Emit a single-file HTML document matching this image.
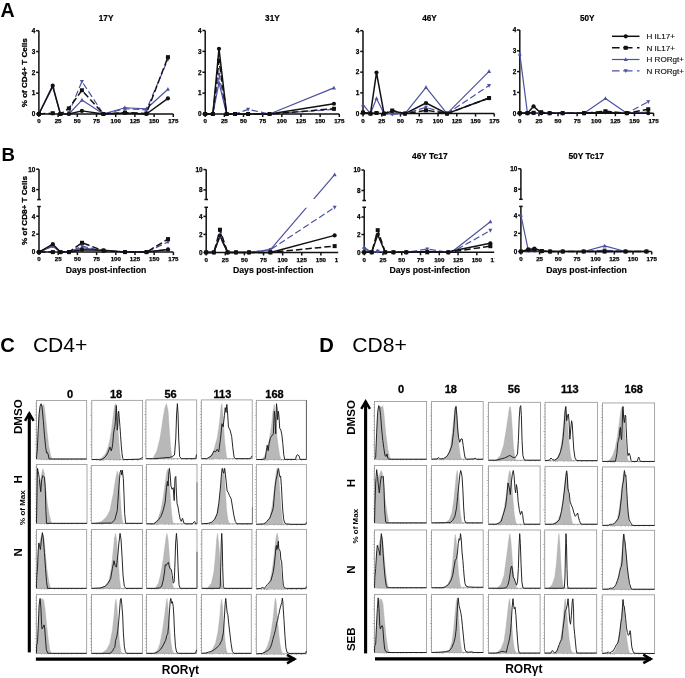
<!DOCTYPE html>
<html><head><meta charset="utf-8"><title>Figure</title>
<style>html,body{margin:0;padding:0;background:#fff;width:685px;height:678px;overflow:hidden}
svg{display:block;font-family:"Liberation Sans", sans-serif;will-change:transform}</style></head>
<body>
<svg width="685" height="678" viewBox="0 0 685 678" font-family='"Liberation Sans", sans-serif'>
<rect width="685" height="678" fill="#fff"/>
<text x="0.5" y="16.8" font-size="19.6" font-weight="bold" text-anchor="start" fill="#000">A</text>
<text x="1.5" y="160.8" font-size="18.6" font-weight="bold" text-anchor="start" fill="#000">B</text>
<text x="106.1" y="20.9" font-size="8.2" font-weight="bold" text-anchor="middle" fill="#000" stroke="#000" stroke-width="0.2">17Y</text>
<text x="272.4" y="20.9" font-size="8.2" font-weight="bold" text-anchor="middle" fill="#000" stroke="#000" stroke-width="0.2">31Y</text>
<text x="429.5" y="20.9" font-size="8.2" font-weight="bold" text-anchor="middle" fill="#000" stroke="#000" stroke-width="0.2">46Y</text>
<text x="587.3" y="20.9" font-size="8.2" font-weight="bold" text-anchor="middle" fill="#000" stroke="#000" stroke-width="0.2">50Y</text>
<text x="429.8" y="158.7" font-size="8.4" font-weight="bold" text-anchor="middle" fill="#000" stroke="#000" stroke-width="0.2">46Y Tc17</text>
<text x="586.2" y="158.7" font-size="8.4" font-weight="bold" text-anchor="middle" fill="#000" stroke="#000" stroke-width="0.2">50Y Tc17</text>
<text x="26.9" y="72.8" font-size="8.1" font-weight="bold" text-anchor="middle" fill="#000" transform="rotate(-90 26.9 72.8)" stroke="#000" stroke-width="0.3">% of CD4+ T Cells</text>
<text x="26.9" y="210.5" font-size="8.1" font-weight="bold" text-anchor="middle" fill="#000" transform="rotate(-90 26.9 210.5)" stroke="#000" stroke-width="0.3">% of CD8+ T Cells</text>
<text x="106" y="272.9" font-size="8.7" font-weight="bold" text-anchor="middle" fill="#000" stroke="#000" stroke-width="0.15">Days post-infection</text>
<text x="273.3" y="272.9" font-size="8.7" font-weight="bold" text-anchor="middle" fill="#000" stroke="#000" stroke-width="0.15">Days post-infection</text>
<text x="429.8" y="272.9" font-size="8.7" font-weight="bold" text-anchor="middle" fill="#000" stroke="#000" stroke-width="0.15">Days post-infection</text>
<text x="586.5" y="272.9" font-size="8.7" font-weight="bold" text-anchor="middle" fill="#000" stroke="#000" stroke-width="0.15">Days post-infection</text>
<g stroke="#111" stroke-width="1.5" fill="none">
<path d="M38.9 30.7V114H173.3"/>
<path d="M36.1 114H38.9"/>
<path d="M36.1 93.17H38.9"/>
<path d="M36.1 72.35H38.9"/>
<path d="M36.1 51.53H38.9"/>
<path d="M36.1 30.7H38.9"/>
<path d="M38.9 114V117"/>
<path d="M58.1 114V117"/>
<path d="M77.3 114V117"/>
<path d="M96.5 114V117"/>
<path d="M115.7 114V117"/>
<path d="M134.9 114V117"/>
<path d="M154.1 114V117"/>
<path d="M173.3 114V117"/>
</g>
<text x="35.3" y="116.3" font-size="6.4" font-weight="bold" text-anchor="end" fill="#000" stroke="#000" stroke-width="0.25">0</text>
<text x="35.3" y="95.47" font-size="6.4" font-weight="bold" text-anchor="end" fill="#000" stroke="#000" stroke-width="0.25">1</text>
<text x="35.3" y="74.65" font-size="6.4" font-weight="bold" text-anchor="end" fill="#000" stroke="#000" stroke-width="0.25">2</text>
<text x="35.3" y="53.83" font-size="6.4" font-weight="bold" text-anchor="end" fill="#000" stroke="#000" stroke-width="0.25">3</text>
<text x="35.3" y="33" font-size="6.4" font-weight="bold" text-anchor="end" fill="#000" stroke="#000" stroke-width="0.25">4</text>
<text x="38.9" y="123.3" font-size="6.2" font-weight="bold" text-anchor="middle" fill="#000" stroke="#000" stroke-width="0.25">0</text>
<text x="58.1" y="123.3" font-size="6.2" font-weight="bold" text-anchor="middle" fill="#000" stroke="#000" stroke-width="0.25">25</text>
<text x="77.3" y="123.3" font-size="6.2" font-weight="bold" text-anchor="middle" fill="#000" stroke="#000" stroke-width="0.25">50</text>
<text x="96.5" y="123.3" font-size="6.2" font-weight="bold" text-anchor="middle" fill="#000" stroke="#000" stroke-width="0.25">75</text>
<text x="115.7" y="123.3" font-size="6.2" font-weight="bold" text-anchor="middle" fill="#000" stroke="#000" stroke-width="0.25">100</text>
<text x="134.9" y="123.3" font-size="6.2" font-weight="bold" text-anchor="middle" fill="#000" stroke="#000" stroke-width="0.25">125</text>
<text x="154.1" y="123.3" font-size="6.2" font-weight="bold" text-anchor="middle" fill="#000" stroke="#000" stroke-width="0.25">150</text>
<text x="173.3" y="123.3" font-size="6.2" font-weight="bold" text-anchor="middle" fill="#000" stroke="#000" stroke-width="0.25">175</text>
<polyline points="38.9,114 52.72,113.58 60.4,114 68.85,112.96 81.91,81.51 103.41,114 124.92,108.79 146.42,109.83 167.92,59.44" fill="none" stroke="#4d52a0" stroke-width="1.2" stroke-dasharray="6.5 3" stroke-linejoin="round"/>
<path d="M38.9 116.2L36.9 112.4L40.9 112.4Z" fill="#4d52a0"/>
<path d="M52.72 115.78L50.72 111.98L54.72 111.98Z" fill="#4d52a0"/>
<path d="M60.4 116.2L58.4 112.4L62.4 112.4Z" fill="#4d52a0"/>
<path d="M68.85 115.16L66.85 111.36L70.85 111.36Z" fill="#4d52a0"/>
<path d="M81.91 83.71L79.91 79.91L83.91 79.91Z" fill="#4d52a0"/>
<path d="M103.41 116.2L101.41 112.4L105.41 112.4Z" fill="#4d52a0"/>
<path d="M124.92 110.99L122.92 107.19L126.92 107.19Z" fill="#4d52a0"/>
<path d="M146.42 112.03L144.42 108.23L148.42 108.23Z" fill="#4d52a0"/>
<path d="M167.92 61.64L165.92 57.84L169.92 57.84Z" fill="#4d52a0"/>
<polyline points="38.9,114 52.72,86.93 60.4,114 68.85,114 81.91,100.05 103.41,114 124.92,107.75 146.42,108.79 167.92,89.22" fill="none" stroke="#4d52a0" stroke-width="1.2" stroke-linejoin="round"/>
<path d="M38.9 111.8L36.9 115.6L40.9 115.6Z" fill="#4d52a0"/>
<path d="M52.72 84.73L50.72 88.53L54.72 88.53Z" fill="#4d52a0"/>
<path d="M60.4 111.8L58.4 115.6L62.4 115.6Z" fill="#4d52a0"/>
<path d="M68.85 111.8L66.85 115.6L70.85 115.6Z" fill="#4d52a0"/>
<path d="M81.91 97.85L79.91 101.65L83.91 101.65Z" fill="#4d52a0"/>
<path d="M103.41 111.8L101.41 115.6L105.41 115.6Z" fill="#4d52a0"/>
<path d="M124.92 105.55L122.92 109.35L126.92 109.35Z" fill="#4d52a0"/>
<path d="M146.42 106.59L144.42 110.39L148.42 110.39Z" fill="#4d52a0"/>
<path d="M167.92 87.02L165.92 90.82L169.92 90.82Z" fill="#4d52a0"/>
<polyline points="38.9,114 52.72,113.17 60.4,114 68.85,108.38 81.91,90.26 103.41,114 124.92,112.54 146.42,113.38 167.92,57.15" fill="none" stroke="#111" stroke-width="1.5" stroke-dasharray="6.5 3" stroke-linejoin="round"/>
<rect x="36.9" y="112" width="4" height="4" fill="#111"/>
<rect x="50.72" y="111.17" width="4" height="4" fill="#111"/>
<rect x="58.4" y="112" width="4" height="4" fill="#111"/>
<rect x="66.85" y="106.38" width="4" height="4" fill="#111"/>
<rect x="79.91" y="88.26" width="4" height="4" fill="#111"/>
<rect x="101.41" y="112" width="4" height="4" fill="#111"/>
<rect x="122.92" y="110.54" width="4" height="4" fill="#111"/>
<rect x="144.42" y="111.38" width="4" height="4" fill="#111"/>
<rect x="165.92" y="55.15" width="4" height="4" fill="#111"/>
<polyline points="38.9,114 52.72,85.68 60.4,114 68.85,114 81.91,110.88 103.41,114 124.92,112.96 146.42,114 167.92,98.38" fill="none" stroke="#111" stroke-width="1.5" stroke-linejoin="round"/>
<circle cx="38.9" cy="114" r="2.1" fill="#111"/>
<circle cx="52.72" cy="85.68" r="2.1" fill="#111"/>
<circle cx="60.4" cy="114" r="2.1" fill="#111"/>
<circle cx="68.85" cy="114" r="2.1" fill="#111"/>
<circle cx="81.91" cy="110.88" r="2.1" fill="#111"/>
<circle cx="103.41" cy="114" r="2.1" fill="#111"/>
<circle cx="124.92" cy="112.96" r="2.1" fill="#111"/>
<circle cx="146.42" cy="114" r="2.1" fill="#111"/>
<circle cx="167.92" cy="98.38" r="2.1" fill="#111"/>
<g stroke="#111" stroke-width="1.5" fill="none">
<path d="M205.2 30.5V114H339.3"/>
<path d="M202.4 114H205.2"/>
<path d="M202.4 93.12H205.2"/>
<path d="M202.4 72.25H205.2"/>
<path d="M202.4 51.38H205.2"/>
<path d="M202.4 30.5H205.2"/>
<path d="M205.2 114V117"/>
<path d="M224.36 114V117"/>
<path d="M243.51 114V117"/>
<path d="M262.67 114V117"/>
<path d="M281.83 114V117"/>
<path d="M300.99 114V117"/>
<path d="M320.14 114V117"/>
<path d="M339.3 114V117"/>
</g>
<text x="201.6" y="116.3" font-size="6.4" font-weight="bold" text-anchor="end" fill="#000" stroke="#000" stroke-width="0.25">0</text>
<text x="201.6" y="95.42" font-size="6.4" font-weight="bold" text-anchor="end" fill="#000" stroke="#000" stroke-width="0.25">1</text>
<text x="201.6" y="74.55" font-size="6.4" font-weight="bold" text-anchor="end" fill="#000" stroke="#000" stroke-width="0.25">2</text>
<text x="201.6" y="53.67" font-size="6.4" font-weight="bold" text-anchor="end" fill="#000" stroke="#000" stroke-width="0.25">3</text>
<text x="201.6" y="32.8" font-size="6.4" font-weight="bold" text-anchor="end" fill="#000" stroke="#000" stroke-width="0.25">4</text>
<text x="205.2" y="123.3" font-size="6.2" font-weight="bold" text-anchor="middle" fill="#000" stroke="#000" stroke-width="0.25">0</text>
<text x="224.36" y="123.3" font-size="6.2" font-weight="bold" text-anchor="middle" fill="#000" stroke="#000" stroke-width="0.25">25</text>
<text x="243.51" y="123.3" font-size="6.2" font-weight="bold" text-anchor="middle" fill="#000" stroke="#000" stroke-width="0.25">50</text>
<text x="262.67" y="123.3" font-size="6.2" font-weight="bold" text-anchor="middle" fill="#000" stroke="#000" stroke-width="0.25">75</text>
<text x="281.83" y="123.3" font-size="6.2" font-weight="bold" text-anchor="middle" fill="#000" stroke="#000" stroke-width="0.25">100</text>
<text x="300.99" y="123.3" font-size="6.2" font-weight="bold" text-anchor="middle" fill="#000" stroke="#000" stroke-width="0.25">125</text>
<text x="320.14" y="123.3" font-size="6.2" font-weight="bold" text-anchor="middle" fill="#000" stroke="#000" stroke-width="0.25">150</text>
<text x="339.3" y="123.3" font-size="6.2" font-weight="bold" text-anchor="middle" fill="#000" stroke="#000" stroke-width="0.25">175</text>
<polyline points="205.2,114 212.86,114 218.99,74.34 226.66,114 235.09,114 248.11,109.41 269.57,114 333.94,109.41" fill="none" stroke="#4d52a0" stroke-width="1.2" stroke-dasharray="6.5 3" stroke-linejoin="round"/>
<path d="M205.2 116.2L203.2 112.4L207.2 112.4Z" fill="#4d52a0"/>
<path d="M212.86 116.2L210.86 112.4L214.86 112.4Z" fill="#4d52a0"/>
<path d="M218.99 76.54L216.99 72.74L220.99 72.74Z" fill="#4d52a0"/>
<path d="M226.66 116.2L224.66 112.4L228.66 112.4Z" fill="#4d52a0"/>
<path d="M235.09 116.2L233.09 112.4L237.09 112.4Z" fill="#4d52a0"/>
<path d="M248.11 111.61L246.11 107.81L250.11 107.81Z" fill="#4d52a0"/>
<path d="M269.57 116.2L267.57 112.4L271.57 112.4Z" fill="#4d52a0"/>
<path d="M333.94 111.61L331.94 107.81L335.94 107.81Z" fill="#4d52a0"/>
<polyline points="205.2,114 212.86,114 218.99,82.69 226.66,114 235.09,114 248.11,114 269.57,114 333.94,87.91" fill="none" stroke="#4d52a0" stroke-width="1.2" stroke-linejoin="round"/>
<path d="M205.2 111.8L203.2 115.6L207.2 115.6Z" fill="#4d52a0"/>
<path d="M212.86 111.8L210.86 115.6L214.86 115.6Z" fill="#4d52a0"/>
<path d="M218.99 80.49L216.99 84.29L220.99 84.29Z" fill="#4d52a0"/>
<path d="M226.66 111.8L224.66 115.6L228.66 115.6Z" fill="#4d52a0"/>
<path d="M235.09 111.8L233.09 115.6L237.09 115.6Z" fill="#4d52a0"/>
<path d="M248.11 111.8L246.11 115.6L250.11 115.6Z" fill="#4d52a0"/>
<path d="M269.57 111.8L267.57 115.6L271.57 115.6Z" fill="#4d52a0"/>
<path d="M333.94 85.71L331.94 89.51L335.94 89.51Z" fill="#4d52a0"/>
<polyline points="205.2,114 212.86,114 218.99,60.77 226.66,114 235.09,114 248.11,114 269.57,114 333.94,108.78" fill="none" stroke="#111" stroke-width="1.5" stroke-dasharray="6.5 3" stroke-linejoin="round"/>
<rect x="203.2" y="112" width="4" height="4" fill="#111"/>
<rect x="210.86" y="112" width="4" height="4" fill="#111"/>
<rect x="216.99" y="58.77" width="4" height="4" fill="#111"/>
<rect x="224.66" y="112" width="4" height="4" fill="#111"/>
<rect x="233.09" y="112" width="4" height="4" fill="#111"/>
<rect x="246.11" y="112" width="4" height="4" fill="#111"/>
<rect x="267.57" y="112" width="4" height="4" fill="#111"/>
<rect x="331.94" y="106.78" width="4" height="4" fill="#111"/>
<polyline points="205.2,114 212.86,114 218.99,48.87 226.66,114 235.09,114 248.11,114 269.57,114 333.94,103.77" fill="none" stroke="#111" stroke-width="1.5" stroke-linejoin="round"/>
<circle cx="205.2" cy="114" r="2.1" fill="#111"/>
<circle cx="212.86" cy="114" r="2.1" fill="#111"/>
<circle cx="218.99" cy="48.87" r="2.1" fill="#111"/>
<circle cx="226.66" cy="114" r="2.1" fill="#111"/>
<circle cx="235.09" cy="114" r="2.1" fill="#111"/>
<circle cx="248.11" cy="114" r="2.1" fill="#111"/>
<circle cx="269.57" cy="114" r="2.1" fill="#111"/>
<circle cx="333.94" cy="103.77" r="2.1" fill="#111"/>
<g stroke="#111" stroke-width="1.5" fill="none">
<path d="M363 30.7V113.6H494.3"/>
<path d="M360.2 113.6H363"/>
<path d="M360.2 92.88H363"/>
<path d="M360.2 72.15H363"/>
<path d="M360.2 51.42H363"/>
<path d="M360.2 30.7H363"/>
<path d="M363 113.6V116.6"/>
<path d="M381.76 113.6V116.6"/>
<path d="M400.51 113.6V116.6"/>
<path d="M419.27 113.6V116.6"/>
<path d="M438.03 113.6V116.6"/>
<path d="M456.79 113.6V116.6"/>
<path d="M475.54 113.6V116.6"/>
<path d="M494.3 113.6V116.6"/>
</g>
<text x="359.4" y="115.9" font-size="6.4" font-weight="bold" text-anchor="end" fill="#000" stroke="#000" stroke-width="0.25">0</text>
<text x="359.4" y="95.17" font-size="6.4" font-weight="bold" text-anchor="end" fill="#000" stroke="#000" stroke-width="0.25">1</text>
<text x="359.4" y="74.45" font-size="6.4" font-weight="bold" text-anchor="end" fill="#000" stroke="#000" stroke-width="0.25">2</text>
<text x="359.4" y="53.72" font-size="6.4" font-weight="bold" text-anchor="end" fill="#000" stroke="#000" stroke-width="0.25">3</text>
<text x="359.4" y="33" font-size="6.4" font-weight="bold" text-anchor="end" fill="#000" stroke="#000" stroke-width="0.25">4</text>
<text x="363" y="122.9" font-size="6.2" font-weight="bold" text-anchor="middle" fill="#000" stroke="#000" stroke-width="0.25">0</text>
<text x="381.76" y="122.9" font-size="6.2" font-weight="bold" text-anchor="middle" fill="#000" stroke="#000" stroke-width="0.25">25</text>
<text x="400.51" y="122.9" font-size="6.2" font-weight="bold" text-anchor="middle" fill="#000" stroke="#000" stroke-width="0.25">50</text>
<text x="419.27" y="122.9" font-size="6.2" font-weight="bold" text-anchor="middle" fill="#000" stroke="#000" stroke-width="0.25">75</text>
<text x="438.03" y="122.9" font-size="6.2" font-weight="bold" text-anchor="middle" fill="#000" stroke="#000" stroke-width="0.25">100</text>
<text x="456.79" y="122.9" font-size="6.2" font-weight="bold" text-anchor="middle" fill="#000" stroke="#000" stroke-width="0.25">125</text>
<text x="475.54" y="122.9" font-size="6.2" font-weight="bold" text-anchor="middle" fill="#000" stroke="#000" stroke-width="0.25">150</text>
<text x="494.3" y="122.9" font-size="6.2" font-weight="bold" text-anchor="middle" fill="#000" stroke="#000" stroke-width="0.25">175</text>
<polyline points="363,112.56 370.5,113.6 376.51,112.56 384.01,113.6 392.26,114.22 405.02,113.6 426.02,107.38 447.03,113.6 489.05,85.62" fill="none" stroke="#4d52a0" stroke-width="1.2" stroke-dasharray="6.5 3" stroke-linejoin="round"/>
<path d="M363 114.76L361 110.96L365 110.96Z" fill="#4d52a0"/>
<path d="M370.5 115.8L368.5 112L372.5 112Z" fill="#4d52a0"/>
<path d="M376.51 114.76L374.51 110.96L378.51 110.96Z" fill="#4d52a0"/>
<path d="M384.01 115.8L382.01 112L386.01 112Z" fill="#4d52a0"/>
<path d="M392.26 116.42L390.26 112.62L394.26 112.62Z" fill="#4d52a0"/>
<path d="M405.02 115.8L403.02 112L407.02 112Z" fill="#4d52a0"/>
<path d="M426.02 109.58L424.02 105.78L428.02 105.78Z" fill="#4d52a0"/>
<path d="M447.03 115.8L445.03 112L449.03 112Z" fill="#4d52a0"/>
<path d="M489.05 87.82L487.05 84.02L491.05 84.02Z" fill="#4d52a0"/>
<polyline points="363,104.69 370.5,113.6 376.51,98.47 384.01,113.6 392.26,113.6 405.02,113.6 426.02,87.28 447.03,113.6 489.05,71.32" fill="none" stroke="#4d52a0" stroke-width="1.2" stroke-linejoin="round"/>
<path d="M363 102.49L361 106.29L365 106.29Z" fill="#4d52a0"/>
<path d="M370.5 111.4L368.5 115.2L372.5 115.2Z" fill="#4d52a0"/>
<path d="M376.51 96.27L374.51 100.07L378.51 100.07Z" fill="#4d52a0"/>
<path d="M384.01 111.4L382.01 115.2L386.01 115.2Z" fill="#4d52a0"/>
<path d="M392.26 111.4L390.26 115.2L394.26 115.2Z" fill="#4d52a0"/>
<path d="M405.02 111.4L403.02 115.2L407.02 115.2Z" fill="#4d52a0"/>
<path d="M426.02 85.08L424.02 88.88L428.02 88.88Z" fill="#4d52a0"/>
<path d="M447.03 111.4L445.03 115.2L449.03 115.2Z" fill="#4d52a0"/>
<path d="M489.05 69.12L487.05 72.92L491.05 72.92Z" fill="#4d52a0"/>
<polyline points="363,112.56 370.5,113.6 376.51,112.98 384.01,113.6 392.26,110.49 405.02,113.6 426.02,110.28 447.03,113.6 489.05,98.06" fill="none" stroke="#111" stroke-width="1.5" stroke-dasharray="6.5 3" stroke-linejoin="round"/>
<rect x="361" y="110.56" width="4" height="4" fill="#111"/>
<rect x="368.5" y="111.6" width="4" height="4" fill="#111"/>
<rect x="374.51" y="110.98" width="4" height="4" fill="#111"/>
<rect x="382.01" y="111.6" width="4" height="4" fill="#111"/>
<rect x="390.26" y="108.49" width="4" height="4" fill="#111"/>
<rect x="403.02" y="111.6" width="4" height="4" fill="#111"/>
<rect x="424.02" y="108.28" width="4" height="4" fill="#111"/>
<rect x="445.03" y="111.6" width="4" height="4" fill="#111"/>
<rect x="487.05" y="96.06" width="4" height="4" fill="#111"/>
<polyline points="363,112.56 370.5,113.6 376.51,72.56 384.01,113.6 392.26,111.11 405.02,113.6 426.02,103.03 447.03,113.6 489.05,98.06" fill="none" stroke="#111" stroke-width="1.5" stroke-linejoin="round"/>
<circle cx="363" cy="112.56" r="2.1" fill="#111"/>
<circle cx="370.5" cy="113.6" r="2.1" fill="#111"/>
<circle cx="376.51" cy="72.56" r="2.1" fill="#111"/>
<circle cx="384.01" cy="113.6" r="2.1" fill="#111"/>
<circle cx="392.26" cy="111.11" r="2.1" fill="#111"/>
<circle cx="405.02" cy="113.6" r="2.1" fill="#111"/>
<circle cx="426.02" cy="103.03" r="2.1" fill="#111"/>
<circle cx="447.03" cy="113.6" r="2.1" fill="#111"/>
<circle cx="489.05" cy="98.06" r="2.1" fill="#111"/>
<g stroke="#111" stroke-width="1.5" fill="none">
<path d="M519.8 30V113.2H653.6"/>
<path d="M517 113.2H519.8"/>
<path d="M517 92.4H519.8"/>
<path d="M517 71.6H519.8"/>
<path d="M517 50.8H519.8"/>
<path d="M517 30H519.8"/>
<path d="M519.8 113.2V116.2"/>
<path d="M538.91 113.2V116.2"/>
<path d="M558.03 113.2V116.2"/>
<path d="M577.14 113.2V116.2"/>
<path d="M596.26 113.2V116.2"/>
<path d="M615.37 113.2V116.2"/>
<path d="M634.49 113.2V116.2"/>
<path d="M653.6 113.2V116.2"/>
</g>
<text x="516.2" y="115.5" font-size="6.4" font-weight="bold" text-anchor="end" fill="#000" stroke="#000" stroke-width="0.25">0</text>
<text x="516.2" y="94.7" font-size="6.4" font-weight="bold" text-anchor="end" fill="#000" stroke="#000" stroke-width="0.25">1</text>
<text x="516.2" y="73.9" font-size="6.4" font-weight="bold" text-anchor="end" fill="#000" stroke="#000" stroke-width="0.25">2</text>
<text x="516.2" y="53.1" font-size="6.4" font-weight="bold" text-anchor="end" fill="#000" stroke="#000" stroke-width="0.25">3</text>
<text x="516.2" y="32.3" font-size="6.4" font-weight="bold" text-anchor="end" fill="#000" stroke="#000" stroke-width="0.25">4</text>
<text x="519.8" y="122.5" font-size="6.2" font-weight="bold" text-anchor="middle" fill="#000" stroke="#000" stroke-width="0.25">0</text>
<text x="538.91" y="122.5" font-size="6.2" font-weight="bold" text-anchor="middle" fill="#000" stroke="#000" stroke-width="0.25">25</text>
<text x="558.03" y="122.5" font-size="6.2" font-weight="bold" text-anchor="middle" fill="#000" stroke="#000" stroke-width="0.25">50</text>
<text x="577.14" y="122.5" font-size="6.2" font-weight="bold" text-anchor="middle" fill="#000" stroke="#000" stroke-width="0.25">75</text>
<text x="596.26" y="122.5" font-size="6.2" font-weight="bold" text-anchor="middle" fill="#000" stroke="#000" stroke-width="0.25">100</text>
<text x="615.37" y="122.5" font-size="6.2" font-weight="bold" text-anchor="middle" fill="#000" stroke="#000" stroke-width="0.25">125</text>
<text x="634.49" y="122.5" font-size="6.2" font-weight="bold" text-anchor="middle" fill="#000" stroke="#000" stroke-width="0.25">150</text>
<text x="653.6" y="122.5" font-size="6.2" font-weight="bold" text-anchor="middle" fill="#000" stroke="#000" stroke-width="0.25">175</text>
<polyline points="519.8,113.2 527.45,113.2 533.56,113.2 541.21,113.2 549.62,113.2 562.62,113.2 584.02,113.2 605.43,111.12 626.84,113.2 648.25,101.76" fill="none" stroke="#4d52a0" stroke-width="1.2" stroke-dasharray="6.5 3" stroke-linejoin="round"/>
<path d="M519.8 115.4L517.8 111.6L521.8 111.6Z" fill="#4d52a0"/>
<path d="M527.45 115.4L525.45 111.6L529.45 111.6Z" fill="#4d52a0"/>
<path d="M533.56 115.4L531.56 111.6L535.56 111.6Z" fill="#4d52a0"/>
<path d="M541.21 115.4L539.21 111.6L543.21 111.6Z" fill="#4d52a0"/>
<path d="M549.62 115.4L547.62 111.6L551.62 111.6Z" fill="#4d52a0"/>
<path d="M562.62 115.4L560.62 111.6L564.62 111.6Z" fill="#4d52a0"/>
<path d="M584.02 115.4L582.02 111.6L586.02 111.6Z" fill="#4d52a0"/>
<path d="M605.43 113.32L603.43 109.52L607.43 109.52Z" fill="#4d52a0"/>
<path d="M626.84 115.4L624.84 111.6L628.84 111.6Z" fill="#4d52a0"/>
<path d="M648.25 103.96L646.25 100.16L650.25 100.16Z" fill="#4d52a0"/>
<polyline points="519.8,53.92 527.45,113.2 533.56,113.2 541.21,113.2 549.62,113.2 562.62,113.2 584.02,113.2 605.43,98.43 626.84,113.2 648.25,112.16" fill="none" stroke="#4d52a0" stroke-width="1.2" stroke-linejoin="round"/>
<path d="M519.8 51.72L517.8 55.52L521.8 55.52Z" fill="#4d52a0"/>
<path d="M527.45 111L525.45 114.8L529.45 114.8Z" fill="#4d52a0"/>
<path d="M533.56 111L531.56 114.8L535.56 114.8Z" fill="#4d52a0"/>
<path d="M541.21 111L539.21 114.8L543.21 114.8Z" fill="#4d52a0"/>
<path d="M549.62 111L547.62 114.8L551.62 114.8Z" fill="#4d52a0"/>
<path d="M562.62 111L560.62 114.8L564.62 114.8Z" fill="#4d52a0"/>
<path d="M584.02 111L582.02 114.8L586.02 114.8Z" fill="#4d52a0"/>
<path d="M605.43 96.23L603.43 100.03L607.43 100.03Z" fill="#4d52a0"/>
<path d="M626.84 111L624.84 114.8L628.84 114.8Z" fill="#4d52a0"/>
<path d="M648.25 109.96L646.25 113.76L650.25 113.76Z" fill="#4d52a0"/>
<polyline points="519.8,113.2 527.45,113.2 533.56,112.78 541.21,112.16 549.62,113.2 562.62,113.2 584.02,113.2 605.43,111.33 626.84,113.2 648.25,109.25" fill="none" stroke="#111" stroke-width="1.5" stroke-dasharray="6.5 3" stroke-linejoin="round"/>
<rect x="517.8" y="111.2" width="4" height="4" fill="#111"/>
<rect x="525.45" y="111.2" width="4" height="4" fill="#111"/>
<rect x="531.56" y="110.78" width="4" height="4" fill="#111"/>
<rect x="539.21" y="110.16" width="4" height="4" fill="#111"/>
<rect x="547.62" y="111.2" width="4" height="4" fill="#111"/>
<rect x="560.62" y="111.2" width="4" height="4" fill="#111"/>
<rect x="582.02" y="111.2" width="4" height="4" fill="#111"/>
<rect x="603.43" y="109.33" width="4" height="4" fill="#111"/>
<rect x="624.84" y="111.2" width="4" height="4" fill="#111"/>
<rect x="646.25" y="107.25" width="4" height="4" fill="#111"/>
<polyline points="519.8,113.2 527.45,113.2 533.56,106.34 541.21,113.2 549.62,113.2 562.62,113.2 584.02,113.2 605.43,112.16 626.84,113.2 648.25,113.2" fill="none" stroke="#111" stroke-width="1.5" stroke-linejoin="round"/>
<circle cx="519.8" cy="113.2" r="2.1" fill="#111"/>
<circle cx="527.45" cy="113.2" r="2.1" fill="#111"/>
<circle cx="533.56" cy="106.34" r="2.1" fill="#111"/>
<circle cx="541.21" cy="113.2" r="2.1" fill="#111"/>
<circle cx="549.62" cy="113.2" r="2.1" fill="#111"/>
<circle cx="562.62" cy="113.2" r="2.1" fill="#111"/>
<circle cx="584.02" cy="113.2" r="2.1" fill="#111"/>
<circle cx="605.43" cy="112.16" r="2.1" fill="#111"/>
<circle cx="626.84" cy="113.2" r="2.1" fill="#111"/>
<circle cx="648.25" cy="113.2" r="2.1" fill="#111"/>
<clipPath id="cb0"><rect x="0" y="0" width="700" height="678"/></clipPath>
<clipPath id="cbl0"><rect x="0" y="207" width="700" height="93.5"/><rect x="0" y="0" width="700" height="199.1"/></clipPath>
<g clip-path="url(#cb0)">
<g stroke="#111" stroke-width="1.5" fill="none">
<path d="M39 169.2V199.6"/>
<path d="M37.2 199.6H40.8"/>
<path d="M37.2 206.5H40.8"/>
<path d="M39 206.5V252.1H173.4"/>
<path d="M36.2 169.2H39"/>
<path d="M36.2 189.6H39"/>
<path d="M36.2 216.2H39"/>
<path d="M36.2 234.15H39"/>
<path d="M36.2 252.1H39"/>
<path d="M39 252.1V255.1"/>
<path d="M58.2 252.1V255.1"/>
<path d="M77.4 252.1V255.1"/>
<path d="M96.6 252.1V255.1"/>
<path d="M115.8 252.1V255.1"/>
<path d="M135 252.1V255.1"/>
<path d="M154.2 252.1V255.1"/>
<path d="M173.4 252.1V255.1"/>
</g>
<text x="35.4" y="171.5" font-size="6.4" font-weight="bold" text-anchor="end" fill="#000" stroke="#000" stroke-width="0.25">10</text>
<text x="35.4" y="191.9" font-size="6.4" font-weight="bold" text-anchor="end" fill="#000" stroke="#000" stroke-width="0.25">8</text>
<text x="35.4" y="218.5" font-size="6.4" font-weight="bold" text-anchor="end" fill="#000" stroke="#000" stroke-width="0.25">4</text>
<text x="35.4" y="236.45" font-size="6.4" font-weight="bold" text-anchor="end" fill="#000" stroke="#000" stroke-width="0.25">2</text>
<text x="35.4" y="254.4" font-size="6.4" font-weight="bold" text-anchor="end" fill="#000" stroke="#000" stroke-width="0.25">0</text>
<text x="39" y="261.4" font-size="6.2" font-weight="bold" text-anchor="middle" fill="#000" stroke="#000" stroke-width="0.25">0</text>
<text x="58.2" y="261.4" font-size="6.2" font-weight="bold" text-anchor="middle" fill="#000" stroke="#000" stroke-width="0.25">25</text>
<text x="77.4" y="261.4" font-size="6.2" font-weight="bold" text-anchor="middle" fill="#000" stroke="#000" stroke-width="0.25">50</text>
<text x="96.6" y="261.4" font-size="6.2" font-weight="bold" text-anchor="middle" fill="#000" stroke="#000" stroke-width="0.25">75</text>
<text x="115.8" y="261.4" font-size="6.2" font-weight="bold" text-anchor="middle" fill="#000" stroke="#000" stroke-width="0.25">100</text>
<text x="135" y="261.4" font-size="6.2" font-weight="bold" text-anchor="middle" fill="#000" stroke="#000" stroke-width="0.25">125</text>
<text x="154.2" y="261.4" font-size="6.2" font-weight="bold" text-anchor="middle" fill="#000" stroke="#000" stroke-width="0.25">150</text>
<text x="173.4" y="261.4" font-size="6.2" font-weight="bold" text-anchor="middle" fill="#000" stroke="#000" stroke-width="0.25">175</text>
<g clip-path="url(#cbl0)">
<polyline points="39,252.1 52.82,245.82 60.5,252.1 68.95,252.1 82.01,246.09 103.51,251.2 125.02,252.1 146.52,252.1 168.02,241.96" fill="none" stroke="#4d52a0" stroke-width="1.2" stroke-dasharray="6.5 3" stroke-linejoin="round"/>
<polyline points="39,252.1 52.82,246.27 60.5,252.1 68.95,252.1 82.01,247.61 103.51,251.2 125.02,252.1 146.52,252.1 168.02,249.41" fill="none" stroke="#4d52a0" stroke-width="1.2" stroke-linejoin="round"/>
<polyline points="39,252.1 52.82,252.1 60.5,252.1 68.95,252.1 82.01,242.77 103.51,250.75 125.02,252.1 146.52,252.1 168.02,239.09" fill="none" stroke="#111" stroke-width="1.5" stroke-dasharray="6.5 3" stroke-linejoin="round"/>
<polyline points="39,252.1 52.82,244.2 60.5,252.1 68.95,252.1 82.01,249.68 103.51,250.31 125.02,252.1 146.52,252.1 168.02,249.41" fill="none" stroke="#111" stroke-width="1.5" stroke-linejoin="round"/>
</g>
<path d="M39 254.3L37 250.5L41 250.5Z" fill="#4d52a0"/>
<path d="M52.82 248.02L50.82 244.22L54.82 244.22Z" fill="#4d52a0"/>
<path d="M60.5 254.3L58.5 250.5L62.5 250.5Z" fill="#4d52a0"/>
<path d="M68.95 254.3L66.95 250.5L70.95 250.5Z" fill="#4d52a0"/>
<path d="M82.01 248.29L80.01 244.49L84.01 244.49Z" fill="#4d52a0"/>
<path d="M103.51 253.4L101.51 249.6L105.51 249.6Z" fill="#4d52a0"/>
<path d="M125.02 254.3L123.02 250.5L127.02 250.5Z" fill="#4d52a0"/>
<path d="M146.52 254.3L144.52 250.5L148.52 250.5Z" fill="#4d52a0"/>
<path d="M168.02 244.16L166.02 240.36L170.02 240.36Z" fill="#4d52a0"/>
<path d="M39 249.9L37 253.7L41 253.7Z" fill="#4d52a0"/>
<path d="M52.82 244.07L50.82 247.87L54.82 247.87Z" fill="#4d52a0"/>
<path d="M60.5 249.9L58.5 253.7L62.5 253.7Z" fill="#4d52a0"/>
<path d="M68.95 249.9L66.95 253.7L70.95 253.7Z" fill="#4d52a0"/>
<path d="M82.01 245.41L80.01 249.21L84.01 249.21Z" fill="#4d52a0"/>
<path d="M103.51 249L101.51 252.8L105.51 252.8Z" fill="#4d52a0"/>
<path d="M125.02 249.9L123.02 253.7L127.02 253.7Z" fill="#4d52a0"/>
<path d="M146.52 249.9L144.52 253.7L148.52 253.7Z" fill="#4d52a0"/>
<path d="M168.02 247.21L166.02 251.01L170.02 251.01Z" fill="#4d52a0"/>
<rect x="37" y="250.1" width="4" height="4" fill="#111"/>
<rect x="50.82" y="250.1" width="4" height="4" fill="#111"/>
<rect x="58.5" y="250.1" width="4" height="4" fill="#111"/>
<rect x="66.95" y="250.1" width="4" height="4" fill="#111"/>
<rect x="80.01" y="240.77" width="4" height="4" fill="#111"/>
<rect x="101.51" y="248.75" width="4" height="4" fill="#111"/>
<rect x="123.02" y="250.1" width="4" height="4" fill="#111"/>
<rect x="144.52" y="250.1" width="4" height="4" fill="#111"/>
<rect x="166.02" y="237.09" width="4" height="4" fill="#111"/>
<circle cx="39" cy="252.1" r="2.1" fill="#111"/>
<circle cx="52.82" cy="244.2" r="2.1" fill="#111"/>
<circle cx="60.5" cy="252.1" r="2.1" fill="#111"/>
<circle cx="68.95" cy="252.1" r="2.1" fill="#111"/>
<circle cx="82.01" cy="249.68" r="2.1" fill="#111"/>
<circle cx="103.51" cy="250.31" r="2.1" fill="#111"/>
<circle cx="125.02" cy="252.1" r="2.1" fill="#111"/>
<circle cx="146.52" cy="252.1" r="2.1" fill="#111"/>
<circle cx="168.02" cy="249.41" r="2.1" fill="#111"/>
</g>
<clipPath id="cb1"><rect x="0" y="0" width="338.2" height="678"/></clipPath>
<clipPath id="cbl1"><rect x="0" y="207.8" width="338.2" height="92.7"/><rect x="0" y="0" width="338.2" height="199"/></clipPath>
<g clip-path="url(#cb1)">
<g stroke="#111" stroke-width="1.5" fill="none">
<path d="M206.2 169.6V199.5"/>
<path d="M204.4 199.5H208"/>
<path d="M204.4 207.3H208"/>
<path d="M206.2 207.3V252.4H340"/>
<path d="M203.4 169.6H206.2"/>
<path d="M203.4 189.9H206.2"/>
<path d="M203.4 216.4H206.2"/>
<path d="M203.4 234.4H206.2"/>
<path d="M203.4 252.4H206.2"/>
<path d="M206.2 252.4V255.4"/>
<path d="M225.31 252.4V255.4"/>
<path d="M244.43 252.4V255.4"/>
<path d="M263.54 252.4V255.4"/>
<path d="M282.66 252.4V255.4"/>
<path d="M301.77 252.4V255.4"/>
<path d="M320.89 252.4V255.4"/>
<path d="M340 252.4V255.4"/>
</g>
<text x="202.6" y="171.9" font-size="6.4" font-weight="bold" text-anchor="end" fill="#000" stroke="#000" stroke-width="0.25">10</text>
<text x="202.6" y="192.2" font-size="6.4" font-weight="bold" text-anchor="end" fill="#000" stroke="#000" stroke-width="0.25">8</text>
<text x="202.6" y="218.7" font-size="6.4" font-weight="bold" text-anchor="end" fill="#000" stroke="#000" stroke-width="0.25">4</text>
<text x="202.6" y="236.7" font-size="6.4" font-weight="bold" text-anchor="end" fill="#000" stroke="#000" stroke-width="0.25">2</text>
<text x="202.6" y="254.7" font-size="6.4" font-weight="bold" text-anchor="end" fill="#000" stroke="#000" stroke-width="0.25">0</text>
<text x="206.2" y="261.7" font-size="6.2" font-weight="bold" text-anchor="middle" fill="#000" stroke="#000" stroke-width="0.25">0</text>
<text x="225.31" y="261.7" font-size="6.2" font-weight="bold" text-anchor="middle" fill="#000" stroke="#000" stroke-width="0.25">25</text>
<text x="244.43" y="261.7" font-size="6.2" font-weight="bold" text-anchor="middle" fill="#000" stroke="#000" stroke-width="0.25">50</text>
<text x="263.54" y="261.7" font-size="6.2" font-weight="bold" text-anchor="middle" fill="#000" stroke="#000" stroke-width="0.25">75</text>
<text x="282.66" y="261.7" font-size="6.2" font-weight="bold" text-anchor="middle" fill="#000" stroke="#000" stroke-width="0.25">100</text>
<text x="301.77" y="261.7" font-size="6.2" font-weight="bold" text-anchor="middle" fill="#000" stroke="#000" stroke-width="0.25">125</text>
<text x="320.89" y="261.7" font-size="6.2" font-weight="bold" text-anchor="middle" fill="#000" stroke="#000" stroke-width="0.25">150</text>
<text x="340" y="261.7" font-size="6.2" font-weight="bold" text-anchor="middle" fill="#000" stroke="#000" stroke-width="0.25">175</text>
<g clip-path="url(#cbl1)">
<polyline points="206.2,252.4 213.85,252.4 219.96,237.1 227.61,252.4 236.02,252.4 249.02,252.4 270.42,249.7 334.65,207.4" fill="none" stroke="#4d52a0" stroke-width="1.2" stroke-dasharray="6.5 3" stroke-linejoin="round"/>
<polyline points="206.2,252.4 213.85,252.4 219.96,236.2 227.61,252.4 236.02,252.4 249.02,252.4 270.42,249.7 334.65,174.68" fill="none" stroke="#4d52a0" stroke-width="1.2" stroke-linejoin="round"/>
<polyline points="206.2,252.4 213.85,252.4 219.96,229.72 227.61,252.4 236.02,252.4 249.02,252.4 270.42,252.4 334.65,246.1" fill="none" stroke="#111" stroke-width="1.5" stroke-dasharray="6.5 3" stroke-linejoin="round"/>
<polyline points="206.2,252.4 213.85,252.4 219.96,235.3 227.61,252.4 236.02,252.4 249.02,252.4 270.42,252.4 334.65,235.39" fill="none" stroke="#111" stroke-width="1.5" stroke-linejoin="round"/>
</g>
<path d="M206.2 254.6L204.2 250.8L208.2 250.8Z" fill="#4d52a0"/>
<path d="M213.85 254.6L211.85 250.8L215.85 250.8Z" fill="#4d52a0"/>
<path d="M219.96 239.3L217.96 235.5L221.96 235.5Z" fill="#4d52a0"/>
<path d="M227.61 254.6L225.61 250.8L229.61 250.8Z" fill="#4d52a0"/>
<path d="M236.02 254.6L234.02 250.8L238.02 250.8Z" fill="#4d52a0"/>
<path d="M249.02 254.6L247.02 250.8L251.02 250.8Z" fill="#4d52a0"/>
<path d="M270.42 251.9L268.42 248.1L272.42 248.1Z" fill="#4d52a0"/>
<path d="M334.65 209.6L332.65 205.8L336.65 205.8Z" fill="#4d52a0"/>
<path d="M206.2 250.2L204.2 254L208.2 254Z" fill="#4d52a0"/>
<path d="M213.85 250.2L211.85 254L215.85 254Z" fill="#4d52a0"/>
<path d="M219.96 234L217.96 237.8L221.96 237.8Z" fill="#4d52a0"/>
<path d="M227.61 250.2L225.61 254L229.61 254Z" fill="#4d52a0"/>
<path d="M236.02 250.2L234.02 254L238.02 254Z" fill="#4d52a0"/>
<path d="M249.02 250.2L247.02 254L251.02 254Z" fill="#4d52a0"/>
<path d="M270.42 247.5L268.42 251.3L272.42 251.3Z" fill="#4d52a0"/>
<path d="M334.65 172.48L332.65 176.28L336.65 176.28Z" fill="#4d52a0"/>
<rect x="204.2" y="250.4" width="4" height="4" fill="#111"/>
<rect x="211.85" y="250.4" width="4" height="4" fill="#111"/>
<rect x="217.96" y="227.72" width="4" height="4" fill="#111"/>
<rect x="225.61" y="250.4" width="4" height="4" fill="#111"/>
<rect x="234.02" y="250.4" width="4" height="4" fill="#111"/>
<rect x="247.02" y="250.4" width="4" height="4" fill="#111"/>
<rect x="268.42" y="250.4" width="4" height="4" fill="#111"/>
<rect x="332.65" y="244.1" width="4" height="4" fill="#111"/>
<circle cx="206.2" cy="252.4" r="2.1" fill="#111"/>
<circle cx="213.85" cy="252.4" r="2.1" fill="#111"/>
<circle cx="219.96" cy="235.3" r="2.1" fill="#111"/>
<circle cx="227.61" cy="252.4" r="2.1" fill="#111"/>
<circle cx="236.02" cy="252.4" r="2.1" fill="#111"/>
<circle cx="249.02" cy="252.4" r="2.1" fill="#111"/>
<circle cx="270.42" cy="252.4" r="2.1" fill="#111"/>
<circle cx="334.65" cy="235.39" r="2.1" fill="#111"/>
</g>
<clipPath id="cb2"><rect x="0" y="0" width="494.2" height="678"/></clipPath>
<clipPath id="cbl2"><rect x="0" y="207.7" width="494.2" height="92.8"/><rect x="0" y="0" width="494.2" height="199.9"/></clipPath>
<g clip-path="url(#cb2)">
<g stroke="#111" stroke-width="1.5" fill="none">
<path d="M364.2 170V200.4"/>
<path d="M362.4 200.4H366"/>
<path d="M362.4 207.2H366"/>
<path d="M364.2 207.2V252.3H495.6"/>
<path d="M361.4 170H364.2"/>
<path d="M361.4 190.4H364.2"/>
<path d="M361.4 216.9H364.2"/>
<path d="M361.4 234.6H364.2"/>
<path d="M361.4 252.3H364.2"/>
<path d="M364.2 252.3V255.3"/>
<path d="M382.97 252.3V255.3"/>
<path d="M401.74 252.3V255.3"/>
<path d="M420.51 252.3V255.3"/>
<path d="M439.29 252.3V255.3"/>
<path d="M458.06 252.3V255.3"/>
<path d="M476.83 252.3V255.3"/>
<path d="M495.6 252.3V255.3"/>
</g>
<text x="360.6" y="172.3" font-size="6.4" font-weight="bold" text-anchor="end" fill="#000" stroke="#000" stroke-width="0.25">10</text>
<text x="360.6" y="192.7" font-size="6.4" font-weight="bold" text-anchor="end" fill="#000" stroke="#000" stroke-width="0.25">8</text>
<text x="360.6" y="219.2" font-size="6.4" font-weight="bold" text-anchor="end" fill="#000" stroke="#000" stroke-width="0.25">4</text>
<text x="360.6" y="236.9" font-size="6.4" font-weight="bold" text-anchor="end" fill="#000" stroke="#000" stroke-width="0.25">2</text>
<text x="360.6" y="254.6" font-size="6.4" font-weight="bold" text-anchor="end" fill="#000" stroke="#000" stroke-width="0.25">0</text>
<text x="364.2" y="261.6" font-size="6.2" font-weight="bold" text-anchor="middle" fill="#000" stroke="#000" stroke-width="0.25">0</text>
<text x="382.97" y="261.6" font-size="6.2" font-weight="bold" text-anchor="middle" fill="#000" stroke="#000" stroke-width="0.25">25</text>
<text x="401.74" y="261.6" font-size="6.2" font-weight="bold" text-anchor="middle" fill="#000" stroke="#000" stroke-width="0.25">50</text>
<text x="420.51" y="261.6" font-size="6.2" font-weight="bold" text-anchor="middle" fill="#000" stroke="#000" stroke-width="0.25">75</text>
<text x="439.29" y="261.6" font-size="6.2" font-weight="bold" text-anchor="middle" fill="#000" stroke="#000" stroke-width="0.25">100</text>
<text x="458.06" y="261.6" font-size="6.2" font-weight="bold" text-anchor="middle" fill="#000" stroke="#000" stroke-width="0.25">125</text>
<text x="476.83" y="261.6" font-size="6.2" font-weight="bold" text-anchor="middle" fill="#000" stroke="#000" stroke-width="0.25">150</text>
<text x="495.6" y="261.6" font-size="6.2" font-weight="bold" text-anchor="middle" fill="#000" stroke="#000" stroke-width="0.25">175</text>
<g clip-path="url(#cbl2)">
<polyline points="364.2,248.76 371.71,252.3 377.72,251.42 385.22,252.3 393.48,252.3 406.25,252.3 427.27,249.11 448.3,252.3 454.3,250.97 490.34,230.44" fill="none" stroke="#4d52a0" stroke-width="1.2" stroke-dasharray="6.5 3" stroke-linejoin="round"/>
<polyline points="364.2,247.52 371.71,252.3 377.72,250.97 385.22,252.3 393.48,252.3 406.25,252.3 427.27,251.42 448.3,252.3 454.3,250.09 490.34,221.68" fill="none" stroke="#4d52a0" stroke-width="1.2" stroke-linejoin="round"/>
<polyline points="364.2,252.3 371.71,252.3 377.72,230.18 385.22,252.3 393.48,252.3 406.25,252.3 427.27,252.3 448.3,252.3 454.3,251.42 490.34,246.19" fill="none" stroke="#111" stroke-width="1.5" stroke-dasharray="6.5 3" stroke-linejoin="round"/>
<polyline points="364.2,252.3 371.71,252.3 377.72,234.78 385.22,252.3 393.48,252.3 406.25,252.3 427.27,251.86 448.3,252.3 454.3,250.53 490.34,243.27" fill="none" stroke="#111" stroke-width="1.5" stroke-linejoin="round"/>
</g>
<path d="M364.2 250.96L362.2 247.16L366.2 247.16Z" fill="#4d52a0"/>
<path d="M371.71 254.5L369.71 250.7L373.71 250.7Z" fill="#4d52a0"/>
<path d="M377.72 253.62L375.72 249.82L379.72 249.82Z" fill="#4d52a0"/>
<path d="M385.22 254.5L383.22 250.7L387.22 250.7Z" fill="#4d52a0"/>
<path d="M393.48 254.5L391.48 250.7L395.48 250.7Z" fill="#4d52a0"/>
<path d="M406.25 254.5L404.25 250.7L408.25 250.7Z" fill="#4d52a0"/>
<path d="M427.27 251.31L425.27 247.51L429.27 247.51Z" fill="#4d52a0"/>
<path d="M448.3 254.5L446.3 250.7L450.3 250.7Z" fill="#4d52a0"/>
<path d="M490.34 232.64L488.34 228.84L492.34 228.84Z" fill="#4d52a0"/>
<path d="M364.2 245.32L362.2 249.12L366.2 249.12Z" fill="#4d52a0"/>
<path d="M371.71 250.1L369.71 253.9L373.71 253.9Z" fill="#4d52a0"/>
<path d="M377.72 248.77L375.72 252.57L379.72 252.57Z" fill="#4d52a0"/>
<path d="M385.22 250.1L383.22 253.9L387.22 253.9Z" fill="#4d52a0"/>
<path d="M393.48 250.1L391.48 253.9L395.48 253.9Z" fill="#4d52a0"/>
<path d="M406.25 250.1L404.25 253.9L408.25 253.9Z" fill="#4d52a0"/>
<path d="M427.27 249.22L425.27 253.02L429.27 253.02Z" fill="#4d52a0"/>
<path d="M448.3 250.1L446.3 253.9L450.3 253.9Z" fill="#4d52a0"/>
<path d="M490.34 219.48L488.34 223.28L492.34 223.28Z" fill="#4d52a0"/>
<rect x="362.2" y="250.3" width="4" height="4" fill="#111"/>
<rect x="369.71" y="250.3" width="4" height="4" fill="#111"/>
<rect x="375.72" y="228.18" width="4" height="4" fill="#111"/>
<rect x="383.22" y="250.3" width="4" height="4" fill="#111"/>
<rect x="391.48" y="250.3" width="4" height="4" fill="#111"/>
<rect x="404.25" y="250.3" width="4" height="4" fill="#111"/>
<rect x="425.27" y="250.3" width="4" height="4" fill="#111"/>
<rect x="446.3" y="250.3" width="4" height="4" fill="#111"/>
<rect x="488.34" y="244.19" width="4" height="4" fill="#111"/>
<circle cx="364.2" cy="252.3" r="2.1" fill="#111"/>
<circle cx="371.71" cy="252.3" r="2.1" fill="#111"/>
<circle cx="377.72" cy="234.78" r="2.1" fill="#111"/>
<circle cx="385.22" cy="252.3" r="2.1" fill="#111"/>
<circle cx="393.48" cy="252.3" r="2.1" fill="#111"/>
<circle cx="406.25" cy="252.3" r="2.1" fill="#111"/>
<circle cx="427.27" cy="251.86" r="2.1" fill="#111"/>
<circle cx="448.3" cy="252.3" r="2.1" fill="#111"/>
<circle cx="490.34" cy="243.27" r="2.1" fill="#111"/>
</g>
<clipPath id="cb3"><rect x="0" y="0" width="700" height="678"/></clipPath>
<clipPath id="cbl3"><rect x="0" y="206.9" width="700" height="93.6"/><rect x="0" y="0" width="700" height="198.8"/></clipPath>
<g clip-path="url(#cb3)">
<g stroke="#111" stroke-width="1.5" fill="none">
<path d="M520.9 168.8V199.3"/>
<path d="M519.1 199.3H522.7"/>
<path d="M519.1 206.4H522.7"/>
<path d="M520.9 206.4V251.5H651.7"/>
<path d="M518.1 168.8H520.9"/>
<path d="M518.1 189.2H520.9"/>
<path d="M518.1 215.2H520.9"/>
<path d="M518.1 233.35H520.9"/>
<path d="M518.1 251.5H520.9"/>
<path d="M520.9 251.5V254.5"/>
<path d="M539.59 251.5V254.5"/>
<path d="M558.27 251.5V254.5"/>
<path d="M576.96 251.5V254.5"/>
<path d="M595.64 251.5V254.5"/>
<path d="M614.33 251.5V254.5"/>
<path d="M633.01 251.5V254.5"/>
<path d="M651.7 251.5V254.5"/>
</g>
<text x="517.3" y="171.1" font-size="6.4" font-weight="bold" text-anchor="end" fill="#000" stroke="#000" stroke-width="0.25">10</text>
<text x="517.3" y="191.5" font-size="6.4" font-weight="bold" text-anchor="end" fill="#000" stroke="#000" stroke-width="0.25">8</text>
<text x="517.3" y="217.5" font-size="6.4" font-weight="bold" text-anchor="end" fill="#000" stroke="#000" stroke-width="0.25">4</text>
<text x="517.3" y="235.65" font-size="6.4" font-weight="bold" text-anchor="end" fill="#000" stroke="#000" stroke-width="0.25">2</text>
<text x="517.3" y="253.8" font-size="6.4" font-weight="bold" text-anchor="end" fill="#000" stroke="#000" stroke-width="0.25">0</text>
<text x="520.9" y="260.8" font-size="6.2" font-weight="bold" text-anchor="middle" fill="#000" stroke="#000" stroke-width="0.25">0</text>
<text x="539.59" y="260.8" font-size="6.2" font-weight="bold" text-anchor="middle" fill="#000" stroke="#000" stroke-width="0.25">25</text>
<text x="558.27" y="260.8" font-size="6.2" font-weight="bold" text-anchor="middle" fill="#000" stroke="#000" stroke-width="0.25">50</text>
<text x="576.96" y="260.8" font-size="6.2" font-weight="bold" text-anchor="middle" fill="#000" stroke="#000" stroke-width="0.25">75</text>
<text x="595.64" y="260.8" font-size="6.2" font-weight="bold" text-anchor="middle" fill="#000" stroke="#000" stroke-width="0.25">100</text>
<text x="614.33" y="260.8" font-size="6.2" font-weight="bold" text-anchor="middle" fill="#000" stroke="#000" stroke-width="0.25">125</text>
<text x="633.01" y="260.8" font-size="6.2" font-weight="bold" text-anchor="middle" fill="#000" stroke="#000" stroke-width="0.25">150</text>
<text x="651.7" y="260.8" font-size="6.2" font-weight="bold" text-anchor="middle" fill="#000" stroke="#000" stroke-width="0.25">175</text>
<g clip-path="url(#cbl3)">
<polyline points="520.9,251.5 528.37,250.59 534.35,250.59 541.83,251.5 550.05,251.5 562.76,251.5 583.68,251.5 604.61,250.14 625.54,251.5 646.47,251.5" fill="none" stroke="#4d52a0" stroke-width="1.2" stroke-dasharray="6.5 3" stroke-linejoin="round"/>
<polyline points="520.9,215.2 528.37,250.59 534.35,250.59 541.83,251.5 550.05,251.5 562.76,251.5 583.68,251.5 604.61,245.87 625.54,251.5 646.47,251.5" fill="none" stroke="#4d52a0" stroke-width="1.2" stroke-linejoin="round"/>
<polyline points="520.9,251.5 528.37,249.69 534.35,249.69 541.83,251.05 550.05,251.5 562.76,251.5 583.68,251.5 604.61,251.5 625.54,251.5 646.47,251.5" fill="none" stroke="#111" stroke-width="1.5" stroke-dasharray="6.5 3" stroke-linejoin="round"/>
<polyline points="520.9,251.5 528.37,249.69 534.35,248.51 541.83,251.05 550.05,251.5 562.76,251.5 583.68,251.5 604.61,251.5 625.54,251.5 646.47,251.5" fill="none" stroke="#111" stroke-width="1.5" stroke-linejoin="round"/>
</g>
<path d="M520.9 253.7L518.9 249.9L522.9 249.9Z" fill="#4d52a0"/>
<path d="M528.37 252.79L526.37 248.99L530.37 248.99Z" fill="#4d52a0"/>
<path d="M534.35 252.79L532.35 248.99L536.35 248.99Z" fill="#4d52a0"/>
<path d="M541.83 253.7L539.83 249.9L543.83 249.9Z" fill="#4d52a0"/>
<path d="M550.05 253.7L548.05 249.9L552.05 249.9Z" fill="#4d52a0"/>
<path d="M562.76 253.7L560.76 249.9L564.76 249.9Z" fill="#4d52a0"/>
<path d="M583.68 253.7L581.68 249.9L585.68 249.9Z" fill="#4d52a0"/>
<path d="M604.61 252.34L602.61 248.54L606.61 248.54Z" fill="#4d52a0"/>
<path d="M625.54 253.7L623.54 249.9L627.54 249.9Z" fill="#4d52a0"/>
<path d="M646.47 253.7L644.47 249.9L648.47 249.9Z" fill="#4d52a0"/>
<path d="M520.9 213L518.9 216.8L522.9 216.8Z" fill="#4d52a0"/>
<path d="M528.37 248.39L526.37 252.19L530.37 252.19Z" fill="#4d52a0"/>
<path d="M534.35 248.39L532.35 252.19L536.35 252.19Z" fill="#4d52a0"/>
<path d="M541.83 249.3L539.83 253.1L543.83 253.1Z" fill="#4d52a0"/>
<path d="M550.05 249.3L548.05 253.1L552.05 253.1Z" fill="#4d52a0"/>
<path d="M562.76 249.3L560.76 253.1L564.76 253.1Z" fill="#4d52a0"/>
<path d="M583.68 249.3L581.68 253.1L585.68 253.1Z" fill="#4d52a0"/>
<path d="M604.61 243.67L602.61 247.47L606.61 247.47Z" fill="#4d52a0"/>
<path d="M625.54 249.3L623.54 253.1L627.54 253.1Z" fill="#4d52a0"/>
<path d="M646.47 249.3L644.47 253.1L648.47 253.1Z" fill="#4d52a0"/>
<rect x="518.9" y="249.5" width="4" height="4" fill="#111"/>
<rect x="526.37" y="247.69" width="4" height="4" fill="#111"/>
<rect x="532.35" y="247.69" width="4" height="4" fill="#111"/>
<rect x="539.83" y="249.05" width="4" height="4" fill="#111"/>
<rect x="548.05" y="249.5" width="4" height="4" fill="#111"/>
<rect x="560.76" y="249.5" width="4" height="4" fill="#111"/>
<rect x="581.68" y="249.5" width="4" height="4" fill="#111"/>
<rect x="602.61" y="249.5" width="4" height="4" fill="#111"/>
<rect x="623.54" y="249.5" width="4" height="4" fill="#111"/>
<rect x="644.47" y="249.5" width="4" height="4" fill="#111"/>
<circle cx="520.9" cy="251.5" r="2.1" fill="#111"/>
<circle cx="528.37" cy="249.69" r="2.1" fill="#111"/>
<circle cx="534.35" cy="248.51" r="2.1" fill="#111"/>
<circle cx="541.83" cy="251.05" r="2.1" fill="#111"/>
<circle cx="550.05" cy="251.5" r="2.1" fill="#111"/>
<circle cx="562.76" cy="251.5" r="2.1" fill="#111"/>
<circle cx="583.68" cy="251.5" r="2.1" fill="#111"/>
<circle cx="604.61" cy="251.5" r="2.1" fill="#111"/>
<circle cx="625.54" cy="251.5" r="2.1" fill="#111"/>
<circle cx="646.47" cy="251.5" r="2.1" fill="#111"/>
</g>
<path d="M612 36.3H639.5" stroke="#111" stroke-width="1.5"/>
<circle cx="625.75" cy="36.3" r="2.1" fill="#111"/>
<text x="646.5" y="39.2" font-size="8.1" font-weight="normal" text-anchor="start" fill="#111" stroke="#111" stroke-width="0.15">H IL17+</text>
<path d="M612 47.8H619.6M623.2 47.8H632.5M637 47.8H639.5" stroke="#111" stroke-width="1.5"/>
<rect x="623.75" y="45.8" width="4" height="4" fill="#111"/>
<text x="646.5" y="50.7" font-size="8.1" font-weight="normal" text-anchor="start" fill="#111" stroke="#111" stroke-width="0.15">N IL17+</text>
<path d="M612 59.5H639.5" stroke="#4d52a0" stroke-width="1.2"/>
<path d="M625.75 57.3L623.75 61.1L627.75 61.1Z" fill="#4d52a0"/>
<text x="646.5" y="62.4" font-size="8.1" font-weight="normal" text-anchor="start" fill="#111" stroke="#111" stroke-width="0.15">H RORgt+</text>
<path d="M612 70.8H619.6M623.2 70.8H632.5M637 70.8H639.5" stroke="#4d52a0" stroke-width="1.2"/>
<path d="M625.75 73L623.75 69.2L627.75 69.2Z" fill="#4d52a0"/>
<text x="646.5" y="73.7" font-size="8.1" font-weight="normal" text-anchor="start" fill="#111" stroke="#111" stroke-width="0.15">N RORgt+</text>
<text x="0.2" y="351.6" font-size="20.2" font-weight="bold" text-anchor="start" fill="#000">C</text>
<text x="32.9" y="351.7" font-size="21.1" font-weight="normal" text-anchor="start" fill="#000">CD4+</text>
<text x="319.3" y="351.9" font-size="20.2" font-weight="bold" text-anchor="start" fill="#000">D</text>
<text x="352.2" y="351.9" font-size="21.1" font-weight="normal" text-anchor="start" fill="#000">CD8+</text>
<rect x="36.41" y="400.41" width="50.26" height="58.62" fill="#fff" stroke="#999" stroke-width="0.85"/>
<path d="M36.41 456.09h-1M36.41 453.16h-1M36.41 450.23h-1M36.41 447.3h-1M36.41 444.37h-1.6M36.41 441.44h-1M36.41 438.51h-1M36.41 435.58h-1M36.41 432.65h-1M36.41 429.72h-1.6M36.41 426.79h-1M36.41 423.86h-1M36.41 420.92h-1M36.41 417.99h-1M36.41 415.06h-1.6M36.41 412.13h-1M36.41 409.2h-1M36.41 406.27h-1M36.41 403.34h-1" stroke="#888" stroke-width="0.7"/>
<path d="M41.44 459.02v1.1M44.45 459.02v1.1M46.46 459.02v1.1M47.97 459.02v1.1M54.5 459.02v1.1M58.53 459.02v1.1M61.54 459.02v1.1M64.05 459.02v1.1M67.57 459.02v1.1M71.59 459.02v1.1M76.62 459.02v1.1M81.65 459.02v1.1" stroke="#777" stroke-width="0.6"/>
<path d="M37.21 459.02L37.85 438.15L38.82 417.27L40.1 407.64L41.39 404.42L42.83 405.71L43.96 404.42L45.24 414.06L46.85 430.12L48.77 446.18L50.7 455.81L51.99 459.02Z" fill="#b8b8b8" stroke="#a8a8a8" stroke-width="0.4"/>
<polyline points="36.41,459.02 37.21,451 38.18,430.12 39.14,414.06 40.1,406.03 41.07,403.78 42.03,406.83 43.31,420.48 44.44,434.94 45.56,446.18 46.53,452.92 47.49,452.6 48.29,455.01 49.1,459.02 86.67,459.02" fill="none" stroke="#1a1a1a" stroke-width="0.95" stroke-linejoin="round"/>
<rect x="91.78" y="400.36" width="50.82" height="59.23" fill="#fff" stroke="#999" stroke-width="0.85"/>
<path d="M91.78 456.63h-1M91.78 453.67h-1M91.78 450.71h-1M91.78 447.74h-1M91.78 444.78h-1.6M91.78 441.82h-1M91.78 438.86h-1M91.78 435.9h-1M91.78 432.94h-1M91.78 429.98h-1.6M91.78 427.01h-1M91.78 424.05h-1M91.78 421.09h-1M91.78 418.13h-1M91.78 415.17h-1.6M91.78 412.21h-1M91.78 409.25h-1M91.78 406.28h-1M91.78 403.32h-1" stroke="#888" stroke-width="0.7"/>
<path d="M96.86 459.59v1.1M99.91 459.59v1.1M101.94 459.59v1.1M103.47 459.59v1.1M110.07 459.59v1.1M114.14 459.59v1.1M117.19 459.59v1.1M119.73 459.59v1.1M123.29 459.59v1.1M127.35 459.59v1.1M132.44 459.59v1.1M137.52 459.59v1.1" stroke="#777" stroke-width="0.6"/>
<path d="M98.39 459.59L102.17 457.51L105.48 453.73L107.84 448.07L109.73 440.51L111.43 431.06L112.75 419.73L113.98 410.28L114.92 405.08L115.87 403.67L116.53 406.5L117.28 416.89L118.04 431.06L118.98 443.34L119.93 453.73L121.06 459.59Z" fill="#b8b8b8" stroke="#a8a8a8" stroke-width="0.4"/>
<polyline points="91.78,459.59 97.45,459.4 100.28,459.87 102.17,459.21 104.06,457.98 105.95,456.1 107.84,452.79 109.25,449.01 109.92,447.12 110.48,447.59 111.14,450.9 112.09,448.07 112.75,443.34 113.51,433.9 114.26,429.17 114.92,426.34 115.39,421.62 115.87,412.17 116.34,405.56 116.81,416.89 117.28,430.12 117.76,426.34 118.23,413.11 118.7,411.23 119.17,416.89 119.93,426.34 120.59,435.79 121.25,445.23 122.01,453.73 122.76,458.46 123.9,459.59 139.01,459.21 140.9,458.46 142.6,457.51" fill="none" stroke="#1a1a1a" stroke-width="0.95" stroke-linejoin="round"/>
<rect x="145.93" y="399.93" width="50.75" height="58.78" fill="#fff" stroke="#999" stroke-width="0.85"/>
<path d="M145.93 455.76h-1M145.93 452.83h-1M145.93 449.89h-1M145.93 446.95h-1M145.93 444.01h-1.6M145.93 441.07h-1M145.93 438.13h-1M145.93 435.19h-1M145.93 432.25h-1M145.93 429.32h-1.6M145.93 426.38h-1M145.93 423.44h-1M145.93 420.5h-1M145.93 417.56h-1M145.93 414.62h-1.6M145.93 411.68h-1M145.93 408.74h-1M145.93 405.8h-1M145.93 402.87h-1" stroke="#888" stroke-width="0.7"/>
<path d="M151 458.7v1.1M154.05 458.7v1.1M156.08 458.7v1.1M157.6 458.7v1.1M164.2 458.7v1.1M168.26 458.7v1.1M171.3 458.7v1.1M173.84 458.7v1.1M177.39 458.7v1.1M181.45 458.7v1.1M186.52 458.7v1.1M191.6 458.7v1.1" stroke="#777" stroke-width="0.6"/>
<path d="M152.83 458.7L156.85 451L160.06 438.15L162.95 418.88L164.88 407.64L166.48 403.62L168.09 410.85L169.37 430.12L170.5 446.18L171.62 455.81L172.59 458.7Z" fill="#b8b8b8" stroke="#a8a8a8" stroke-width="0.4"/>
<polyline points="145.93,458.7 153.64,458.7 160.06,458.22 164.88,457.74 169.69,457.42 172.1,456.62 174.51,455.01 175.8,438.15 176.6,414.06 177.4,403.62 178.05,414.06 178.69,438.15 179.65,456.62 181.74,458.7 195.71,458.7 196.51,454.53" fill="none" stroke="#1a1a1a" stroke-width="0.95" stroke-linejoin="round"/>
<rect x="201.33" y="399.93" width="50.87" height="58.78" fill="#fff" stroke="#999" stroke-width="0.85"/>
<path d="M201.33 455.76h-1M201.33 452.83h-1M201.33 449.89h-1M201.33 446.95h-1M201.33 444.01h-1.6M201.33 441.07h-1M201.33 438.13h-1M201.33 435.19h-1M201.33 432.25h-1M201.33 429.32h-1.6M201.33 426.38h-1M201.33 423.44h-1M201.33 420.5h-1M201.33 417.56h-1M201.33 414.62h-1.6M201.33 411.68h-1M201.33 408.74h-1M201.33 405.8h-1M201.33 402.87h-1" stroke="#888" stroke-width="0.7"/>
<path d="M206.42 458.7v1.1M209.47 458.7v1.1M211.5 458.7v1.1M213.03 458.7v1.1M219.64 458.7v1.1M223.71 458.7v1.1M226.77 458.7v1.1M229.31 458.7v1.1M232.87 458.7v1.1M236.94 458.7v1.1M242.03 458.7v1.1M247.11 458.7v1.1" stroke="#777" stroke-width="0.6"/>
<path d="M208.28 458.7L213.12 452.6L217.16 438.15L219.58 422.09L221.19 406.03L222 403.62L223.13 417.27L224.42 438.15L225.72 451L226.85 458.7Z" fill="#b8b8b8" stroke="#a8a8a8" stroke-width="0.4"/>
<polyline points="201.33,458.7 206.66,458.7 211.5,455.81 213.93,451 215.54,451.8 217.16,449.39 218.77,451.8 220.39,439.75 222,423.69 223.13,426.91 224.42,415.67 225.23,407.64 226.04,412.45 226.85,404.42 227.65,414.06 228.46,426.91 230.08,430.12 231.69,436.54 232.82,447.78 234.11,457.42 235.73,458.7 250.26,458.7 252.2,455.81" fill="none" stroke="#1a1a1a" stroke-width="0.95" stroke-linejoin="round"/>
<rect x="256.36" y="400.36" width="50.05" height="59.21" fill="#fff" stroke="#999" stroke-width="0.85"/>
<path d="M256.36 456.61h-1M256.36 453.65h-1M256.36 450.69h-1M256.36 447.73h-1M256.36 444.77h-1.6M256.36 441.81h-1M256.36 438.85h-1M256.36 435.89h-1M256.36 432.93h-1M256.36 429.97h-1.6M256.36 427.01h-1M256.36 424.05h-1M256.36 421.09h-1M256.36 418.12h-1M256.36 415.16h-1.6M256.36 412.2h-1M256.36 409.24h-1M256.36 406.28h-1M256.36 403.32h-1" stroke="#888" stroke-width="0.7"/>
<path d="M261.37 459.57v1.1M264.37 459.57v1.1M266.37 459.57v1.1M267.87 459.57v1.1M274.38 459.57v1.1M278.38 459.57v1.1M281.39 459.57v1.1M283.89 459.57v1.1M287.39 459.57v1.1M291.4 459.57v1.1M296.4 459.57v1.1M301.41 459.57v1.1" stroke="#777" stroke-width="0.6"/>
<path d="M261.56 459.57L264.39 456.55L267.22 449L269.58 437.66L271.47 426.33L272.89 412.17L274.3 404.61L275.25 412.17L276.19 426.33L277.14 437.66L278.36 447.11L279.5 454.66L280.91 459.57Z" fill="#b8b8b8" stroke="#a8a8a8" stroke-width="0.4"/>
<polyline points="256.36,459.57 263.44,459.38 265.33,458.44 266.28,450.89 267.22,445.22 268.17,450.89 269.11,443.33 270.53,437.66 271.94,435.78 273.36,433.89 274.3,411.22 274.97,416.89 275.72,433.89 276.48,403.67 277.14,409.33 277.61,419.72 278.36,411.22 279.03,416.89 279.69,428.22 280.91,430.11 281.86,434.83 282.8,443.33 283.75,454.66 284.69,459.38 295.55,459.38 296.5,455.61 297.91,454.66 299.14,456.08 300.09,459.38 306.41,459.38" fill="none" stroke="#1a1a1a" stroke-width="0.95" stroke-linejoin="round"/>
<rect x="36.41" y="464.41" width="50.59" height="58.94" fill="#fff" stroke="#999" stroke-width="0.85"/>
<path d="M36.41 520.4h-1M36.41 517.45h-1M36.41 514.51h-1M36.41 511.56h-1M36.41 508.61h-1.6M36.41 505.66h-1M36.41 502.72h-1M36.41 499.77h-1M36.41 496.82h-1M36.41 493.88h-1.6M36.41 490.93h-1M36.41 487.98h-1M36.41 485.04h-1M36.41 482.09h-1M36.41 479.14h-1.6M36.41 476.2h-1M36.41 473.25h-1M36.41 470.3h-1M36.41 467.36h-1" stroke="#888" stroke-width="0.7"/>
<path d="M41.47 523.35v1.1M44.5 523.35v1.1M46.53 523.35v1.1M48.04 523.35v1.1M54.62 523.35v1.1M58.67 523.35v1.1M61.7 523.35v1.1M64.23 523.35v1.1M67.77 523.35v1.1M71.82 523.35v1.1M76.88 523.35v1.1M81.94 523.35v1.1" stroke="#777" stroke-width="0.6"/>
<path d="M36.89 523.35L37.21 494.12L38.5 479.67L40.1 482.88L41.71 473.24L42.99 468.74L44.28 473.24L45.56 486.09L47.17 502.15L49.26 515L51.34 522.7L51.99 523.35Z" fill="#b8b8b8" stroke="#a8a8a8" stroke-width="0.4"/>
<polyline points="36.41,523.35 36.73,510.18 37.53,468.42 38.18,471.64 38.82,474.85 40.1,486.09 40.74,491.71 41.71,479.67 42.83,475.65 43.64,476.45 44.44,477.26 45.24,487.69 45.88,510.18 46.53,523.35 87,523.35" fill="none" stroke="#1a1a1a" stroke-width="0.95" stroke-linejoin="round"/>
<rect x="91.33" y="465.4" width="51.07" height="57.95" fill="#fff" stroke="#999" stroke-width="0.85"/>
<path d="M91.33 520.45h-1M91.33 517.55h-1M91.33 514.65h-1M91.33 511.76h-1M91.33 508.86h-1.6M91.33 505.96h-1M91.33 503.06h-1M91.33 500.17h-1M91.33 497.27h-1M91.33 494.37h-1.6M91.33 491.48h-1M91.33 488.58h-1M91.33 485.68h-1M91.33 482.78h-1M91.33 479.89h-1.6M91.33 476.99h-1M91.33 474.09h-1M91.33 471.19h-1M91.33 468.3h-1" stroke="#888" stroke-width="0.7"/>
<path d="M96.44 523.35v1.1M99.5 523.35v1.1M101.54 523.35v1.1M103.08 523.35v1.1M109.72 523.35v1.1M113.8 523.35v1.1M116.87 523.35v1.1M119.42 523.35v1.1M122.99 523.35v1.1M127.08 523.35v1.1M132.19 523.35v1.1M137.29 523.35v1.1" stroke="#777" stroke-width="0.6"/>
<path d="M95.11 523.35L101.68 521.45L106.6 516.71L109.89 510.4L113.17 494.61L115.63 478.82L117.28 470.93L118.92 477.24L120.07 494.61L121.38 513.56L122.69 523.35Z" fill="#b8b8b8" stroke="#a8a8a8" stroke-width="0.4"/>
<polyline points="91.33,523.35 111.53,523.03 114.81,519.87 117.28,510.4 118.92,486.72 120.07,472.51 120.89,470.14 121.71,474.87 122.37,470.14 123.35,478.82 124.01,494.61 124.67,513.56 125.65,523.35 142.4,523.35" fill="none" stroke="#1a1a1a" stroke-width="0.95" stroke-linejoin="round"/>
<rect x="146.41" y="464.41" width="50.59" height="59.42" fill="#fff" stroke="#999" stroke-width="0.85"/>
<path d="M146.41 520.86h-1M146.41 517.89h-1M146.41 514.91h-1M146.41 511.94h-1M146.41 508.97h-1.6M146.41 506h-1M146.41 503.03h-1M146.41 500.06h-1M146.41 497.09h-1M146.41 494.12h-1.6M146.41 491.15h-1M146.41 488.18h-1M146.41 485.21h-1M146.41 482.23h-1M146.41 479.26h-1.6M146.41 476.29h-1M146.41 473.32h-1M146.41 470.35h-1M146.41 467.38h-1" stroke="#888" stroke-width="0.7"/>
<path d="M151.47 523.83v1.1M154.5 523.83v1.1M156.53 523.83v1.1M158.04 523.83v1.1M164.62 523.83v1.1M168.67 523.83v1.1M171.7 523.83v1.1M174.23 523.83v1.1M177.77 523.83v1.1M181.82 523.83v1.1M186.88 523.83v1.1M191.94 523.83v1.1" stroke="#777" stroke-width="0.6"/>
<path d="M153.64 523.83L157.65 519.81L160.86 510.18L163.27 497.33L165.2 482.88L166.8 471.64L167.77 469.23L168.89 478.06L170.02 494.12L171.3 510.18L172.59 521.42L173.71 523.83Z" fill="#b8b8b8" stroke="#a8a8a8" stroke-width="0.4"/>
<polyline points="146.41,523.83 153.64,523.83 156.04,522.22 158.45,519.81 160.86,516.6 163.27,510.18 165.2,502.15 166.48,487.69 167.45,481.27 168.09,486.09 168.89,471.64 169.37,468.42 170.18,474.85 170.98,486.09 172.1,489.3 173.23,487.69 174.19,500.54 174.99,478.06 175.8,476.45 176.44,494.12 177.08,503.75 178.05,506.97 179.01,513.39 180.13,519.01 181.26,521.42 182.54,518.21 183.83,523.02 185.75,523.83 192.18,523.83 194.59,521.42 195.71,523.83 197,523.83" fill="none" stroke="#1a1a1a" stroke-width="0.95" stroke-linejoin="round"/>
<rect x="201.49" y="464.41" width="50.91" height="59.42" fill="#fff" stroke="#999" stroke-width="0.85"/>
<path d="M201.49 520.86h-1M201.49 517.89h-1M201.49 514.91h-1M201.49 511.94h-1M201.49 508.97h-1.6M201.49 506h-1M201.49 503.03h-1M201.49 500.06h-1M201.49 497.09h-1M201.49 494.12h-1.6M201.49 491.15h-1M201.49 488.18h-1M201.49 485.21h-1M201.49 482.23h-1M201.49 479.26h-1.6M201.49 476.29h-1M201.49 473.32h-1M201.49 470.35h-1M201.49 467.38h-1" stroke="#888" stroke-width="0.7"/>
<path d="M206.58 523.83v1.1M209.64 523.83v1.1M211.67 523.83v1.1M213.2 523.83v1.1M219.82 523.83v1.1M223.89 523.83v1.1M226.95 523.83v1.1M229.49 523.83v1.1M233.05 523.83v1.1M237.13 523.83v1.1M242.22 523.83v1.1M247.31 523.83v1.1" stroke="#777" stroke-width="0.6"/>
<path d="M208.34 523.83L213.24 521.42L216.5 515L218.95 503.75L220.58 490.91L221.72 478.06L222.7 470.03L223.52 468.42L224.34 474.85L225.48 494.12L226.62 510.18L227.92 519.81L229.56 523.83Z" fill="#b8b8b8" stroke="#a8a8a8" stroke-width="0.4"/>
<polyline points="201.49,523.83 208.34,523.35 211.61,522.22 214.87,519.01 217.32,513.39 218.95,502.15 220.58,486.09 221.4,474.85 222.21,468.42 223.03,471.64 223.85,473.24 224.66,468.42 225.48,474.85 226.29,482.88 227.11,490.91 228.25,492.51 229.56,495.72 231.19,498.94 232.49,506.97 233.8,515 235.27,521.42 236.9,523.83 252.4,523.83" fill="none" stroke="#1a1a1a" stroke-width="0.95" stroke-linejoin="round"/>
<rect x="256.36" y="464.64" width="50.05" height="59.68" fill="#fff" stroke="#999" stroke-width="0.85"/>
<path d="M256.36 521.34h-1M256.36 518.36h-1M256.36 515.38h-1M256.36 512.39h-1M256.36 509.41h-1.6M256.36 506.42h-1M256.36 503.44h-1M256.36 500.46h-1M256.36 497.47h-1M256.36 494.49h-1.6M256.36 491.5h-1M256.36 488.52h-1M256.36 485.53h-1M256.36 482.55h-1M256.36 479.57h-1.6M256.36 476.58h-1M256.36 473.6h-1M256.36 470.61h-1M256.36 467.63h-1" stroke="#888" stroke-width="0.7"/>
<path d="M261.37 524.33v1.1M264.37 524.33v1.1M266.37 524.33v1.1M267.87 524.33v1.1M274.38 524.33v1.1M278.38 524.33v1.1M281.39 524.33v1.1M283.89 524.33v1.1M287.39 524.33v1.1M291.4 524.33v1.1M296.4 524.33v1.1M301.41 524.33v1.1" stroke="#777" stroke-width="0.6"/>
<path d="M264.39 524.33L267.22 522.44L270.05 516.77L271.94 507.33L273.36 497.89L274.59 486.55L275.72 476.17L276.85 468.61L277.61 467.67L278.36 471.44L279.03 480.89L279.97 493.16L280.91 506.39L281.86 516.77L282.8 522.44L283.75 524.33Z" fill="#b8b8b8" stroke="#a8a8a8" stroke-width="0.4"/>
<polyline points="256.36,524.33 263.44,523.86 266.28,522.44 268.17,519.61 269.58,518.66 271,514.89 272.42,511.11 273.36,507.33 274.3,495.05 275.25,485.61 276.19,479 277.14,475.22 277.8,470.5 278.55,468.61 279.31,473.33 279.97,477.11 280.63,476.17 281.39,485.61 282.14,499.78 282.8,511.11 283.75,519.61 284.69,522.91 286.58,523.86 291.78,524.33 305.47,524.33 306.41,522.44" fill="none" stroke="#1a1a1a" stroke-width="0.95" stroke-linejoin="round"/>
<rect x="36.41" y="529.41" width="50.26" height="58.94" fill="#fff" stroke="#999" stroke-width="0.85"/>
<path d="M36.41 585.4h-1M36.41 582.45h-1M36.41 579.51h-1M36.41 576.56h-1M36.41 573.61h-1.6M36.41 570.66h-1M36.41 567.72h-1M36.41 564.77h-1M36.41 561.82h-1M36.41 558.88h-1.6M36.41 555.93h-1M36.41 552.98h-1M36.41 550.04h-1M36.41 547.09h-1M36.41 544.14h-1.6M36.41 541.2h-1M36.41 538.25h-1M36.41 535.3h-1M36.41 532.36h-1" stroke="#888" stroke-width="0.7"/>
<path d="M41.44 588.35v1.1M44.45 588.35v1.1M46.46 588.35v1.1M47.97 588.35v1.1M54.5 588.35v1.1M58.53 588.35v1.1M61.54 588.35v1.1M64.05 588.35v1.1M67.57 588.35v1.1M71.59 588.35v1.1M76.62 588.35v1.1M81.65 588.35v1.1" stroke="#777" stroke-width="0.6"/>
<path d="M37.21 588.35L37.53 567.15L38.34 551.09L39.62 543.06L41.23 536.64L42.83 533.42L43.96 538.24L45.24 552.69L46.85 568.75L48.77 581.6L50.38 588.35Z" fill="#b8b8b8" stroke="#a8a8a8" stroke-width="0.4"/>
<polyline points="36.41,588.35 36.89,575.18 37.53,567.15 38.18,551.09 38.82,543.06 39.62,546.27 40.42,549.48 41.23,541.45 42.35,532.62 43.31,538.24 44.44,552.69 45.56,568.75 46.53,581.6 47.49,588.35 86.67,588.35" fill="none" stroke="#1a1a1a" stroke-width="0.95" stroke-linejoin="round"/>
<rect x="91.49" y="529.41" width="50.91" height="58.94" fill="#fff" stroke="#999" stroke-width="0.85"/>
<path d="M91.49 585.4h-1M91.49 582.45h-1M91.49 579.51h-1M91.49 576.56h-1M91.49 573.61h-1.6M91.49 570.66h-1M91.49 567.72h-1M91.49 564.77h-1M91.49 561.82h-1M91.49 558.88h-1.6M91.49 555.93h-1M91.49 552.98h-1M91.49 550.04h-1M91.49 547.09h-1M91.49 544.14h-1.6M91.49 541.2h-1M91.49 538.25h-1M91.49 535.3h-1M91.49 532.36h-1" stroke="#888" stroke-width="0.7"/>
<path d="M96.58 588.35v1.1M99.64 588.35v1.1M101.67 588.35v1.1M103.2 588.35v1.1M109.82 588.35v1.1M113.89 588.35v1.1M116.95 588.35v1.1M119.49 588.35v1.1M123.05 588.35v1.1M127.13 588.35v1.1M132.22 588.35v1.1M137.31 588.35v1.1" stroke="#777" stroke-width="0.6"/>
<path d="M98.39 588.35L104.96 586.42L109.06 580L111.53 567.15L113.17 551.09L114.48 538.24L115.63 533.42L116.78 541.45L118.1 559.12L119.41 578.39L120.72 588.35Z" fill="#b8b8b8" stroke="#a8a8a8" stroke-width="0.4"/>
<polyline points="91.49,588.35 100.03,588.02 104.96,586.42 108.24,583.21 110.71,578.39 112.35,568.75 113.99,560.72 115.14,565.54 116.45,567.15 117.77,555.91 118.92,543.06 120.07,533.42 121.05,539.85 122.2,559.12 123.02,575.18 124.34,586.42 125.98,588.35 142.4,588.35" fill="none" stroke="#1a1a1a" stroke-width="0.95" stroke-linejoin="round"/>
<rect x="146.41" y="529.41" width="50.59" height="58.94" fill="#fff" stroke="#999" stroke-width="0.85"/>
<path d="M146.41 585.4h-1M146.41 582.45h-1M146.41 579.51h-1M146.41 576.56h-1M146.41 573.61h-1.6M146.41 570.66h-1M146.41 567.72h-1M146.41 564.77h-1M146.41 561.82h-1M146.41 558.88h-1.6M146.41 555.93h-1M146.41 552.98h-1M146.41 550.04h-1M146.41 547.09h-1M146.41 544.14h-1.6M146.41 541.2h-1M146.41 538.25h-1M146.41 535.3h-1M146.41 532.36h-1" stroke="#888" stroke-width="0.7"/>
<path d="M151.47 588.35v1.1M154.5 588.35v1.1M156.53 588.35v1.1M158.04 588.35v1.1M164.62 588.35v1.1M168.67 588.35v1.1M171.7 588.35v1.1M174.23 588.35v1.1M177.77 588.35v1.1M181.82 588.35v1.1M186.88 588.35v1.1M191.94 588.35v1.1" stroke="#777" stroke-width="0.6"/>
<path d="M155.24 588.35L158.45 583.21L160.86 573.57L163.27 559.12L164.88 546.27L166.16 536.64L166.96 533.42L168.09 539.85L169.37 555.91L170.66 571.97L172.1 583.21L173.71 588.35Z" fill="#b8b8b8" stroke="#a8a8a8" stroke-width="0.4"/>
<polyline points="146.41,588.35 155.24,588.35 159.26,588.02 161.67,586.42 163.27,580 164.56,571.97 165.2,564.74 166.16,565.54 167.45,563.13 168.41,562.33 169.05,565.54 170.02,568.75 171.3,569.56 172.26,575.18 173.23,583.21 174.19,581.6 174.83,567.15 175.64,543.06 176.44,533.42 177.24,543.06 178.05,567.15 179.01,584.81 180.13,588.35 197,588.35" fill="none" stroke="#1a1a1a" stroke-width="0.95" stroke-linejoin="round"/>
<rect x="201.81" y="529.41" width="50.1" height="58.94" fill="#fff" stroke="#999" stroke-width="0.85"/>
<path d="M201.81 585.4h-1M201.81 582.45h-1M201.81 579.51h-1M201.81 576.56h-1M201.81 573.61h-1.6M201.81 570.66h-1M201.81 567.72h-1M201.81 564.77h-1M201.81 561.82h-1M201.81 558.88h-1.6M201.81 555.93h-1M201.81 552.98h-1M201.81 550.04h-1M201.81 547.09h-1M201.81 544.14h-1.6M201.81 541.2h-1M201.81 538.25h-1M201.81 535.3h-1M201.81 532.36h-1" stroke="#888" stroke-width="0.7"/>
<path d="M206.82 588.35v1.1M209.83 588.35v1.1M211.83 588.35v1.1M213.34 588.35v1.1M219.85 588.35v1.1M223.86 588.35v1.1M226.86 588.35v1.1M229.37 588.35v1.1M232.88 588.35v1.1M236.89 588.35v1.1M241.9 588.35v1.1M246.91 588.35v1.1" stroke="#777" stroke-width="0.6"/>
<path d="M207.43 588.35L211.45 583.21L213.86 571.97L215.46 555.91L216.59 539.85L217.55 533.42L218.67 543.06L219.8 559.12L220.76 575.18L221.89 584.81L223.01 588.35Z" fill="#b8b8b8" stroke="#a8a8a8" stroke-width="0.4"/>
<polyline points="201.81,588.35 219.48,588.35 220.28,586.42 220.76,567.15 221.24,543.06 221.73,533.42 222.21,543.06 222.69,567.15 223.33,586.42 224.3,588.35 251.92,588.35" fill="none" stroke="#1a1a1a" stroke-width="0.95" stroke-linejoin="round"/>
<rect x="256.36" y="529.36" width="50.05" height="59.5" fill="#fff" stroke="#999" stroke-width="0.85"/>
<path d="M256.36 585.88h-1M256.36 582.91h-1M256.36 579.93h-1M256.36 576.96h-1M256.36 573.98h-1.6M256.36 571.01h-1M256.36 568.03h-1M256.36 565.06h-1M256.36 562.08h-1M256.36 559.11h-1.6M256.36 556.13h-1M256.36 553.16h-1M256.36 550.18h-1M256.36 547.21h-1M256.36 544.23h-1.6M256.36 541.26h-1M256.36 538.29h-1M256.36 535.31h-1M256.36 532.34h-1" stroke="#888" stroke-width="0.7"/>
<path d="M261.37 588.86v1.1M264.37 588.86v1.1M266.37 588.86v1.1M267.87 588.86v1.1M274.38 588.86v1.1M278.38 588.86v1.1M281.39 588.86v1.1M283.89 588.86v1.1M287.39 588.86v1.1M291.4 588.86v1.1M296.4 588.86v1.1M301.41 588.86v1.1" stroke="#777" stroke-width="0.6"/>
<path d="M264.39 588.86L267.22 586.5L269.58 581.77L271.47 574.22L272.89 564.78L274.3 553.44L275.53 541.17L276.67 534.56L277.42 533.14L278.18 538.33L278.93 547.78L279.88 560.05L281.01 572.33L282.14 582.72L283.28 587.91L284.22 588.86Z" fill="#b8b8b8" stroke="#a8a8a8" stroke-width="0.4"/>
<polyline points="256.36,588.86 260.61,588.38 262.5,587.44 264.39,588.38 265.8,586.5 267.22,584.61 269.11,582.72 271,580.36 272.42,575.16 273.36,571.39 274.3,564.78 275.25,555.33 275.91,547.78 276.48,545.42 276.85,549.67 277.61,545.89 278.36,541.17 278.74,548.72 279.5,549.67 280.25,551.55 280.91,560.05 281.58,561 282.14,569.5 282.8,579.89 283.46,585.55 284.41,587.91 286.58,588.38 305.47,588.38 306.41,586.5" fill="none" stroke="#1a1a1a" stroke-width="0.95" stroke-linejoin="round"/>
<rect x="36.41" y="594.41" width="50.26" height="58.94" fill="#fff" stroke="#999" stroke-width="0.85"/>
<path d="M36.41 650.4h-1M36.41 647.45h-1M36.41 644.51h-1M36.41 641.56h-1M36.41 638.61h-1.6M36.41 635.66h-1M36.41 632.72h-1M36.41 629.77h-1M36.41 626.82h-1M36.41 623.88h-1.6M36.41 620.93h-1M36.41 617.98h-1M36.41 615.04h-1M36.41 612.09h-1M36.41 609.14h-1.6M36.41 606.2h-1M36.41 603.25h-1M36.41 600.3h-1M36.41 597.36h-1" stroke="#888" stroke-width="0.7"/>
<path d="M41.44 653.35v1.1M44.45 653.35v1.1M46.46 653.35v1.1M47.97 653.35v1.1M54.5 653.35v1.1M58.53 653.35v1.1M61.54 653.35v1.1M64.05 653.35v1.1M67.57 653.35v1.1M71.59 653.35v1.1M76.62 653.35v1.1M81.65 653.35v1.1" stroke="#777" stroke-width="0.6"/>
<path d="M36.89 653.35L37.53 640.18L38.5 616.09L39.62 603.24L40.74 600.03L42.35 598.74L43.64 600.03L44.92 608.06L46.53 624.12L48.13 638.57L49.74 649.81L51.34 653.35Z" fill="#b8b8b8" stroke="#a8a8a8" stroke-width="0.4"/>
<polyline points="36.41,653.35 36.73,645 37.53,641.78 38.34,624.12 39.14,604.85 40.1,598.42 40.91,608.06 41.55,624.12 42.03,628.94 42.99,627.33 44.12,624.92 44.76,628.94 45.56,640.18 46.37,649.81 47.65,653.02 49.26,653.35 86.67,653.35" fill="none" stroke="#1a1a1a" stroke-width="0.95" stroke-linejoin="round"/>
<rect x="91.49" y="594.41" width="50.91" height="58.94" fill="#fff" stroke="#999" stroke-width="0.85"/>
<path d="M91.49 650.4h-1M91.49 647.45h-1M91.49 644.51h-1M91.49 641.56h-1M91.49 638.61h-1.6M91.49 635.66h-1M91.49 632.72h-1M91.49 629.77h-1M91.49 626.82h-1M91.49 623.88h-1.6M91.49 620.93h-1M91.49 617.98h-1M91.49 615.04h-1M91.49 612.09h-1M91.49 609.14h-1.6M91.49 606.2h-1M91.49 603.25h-1M91.49 600.3h-1M91.49 597.36h-1" stroke="#888" stroke-width="0.7"/>
<path d="M96.58 653.35v1.1M99.64 653.35v1.1M101.67 653.35v1.1M103.2 653.35v1.1M109.82 653.35v1.1M113.89 653.35v1.1M116.95 653.35v1.1M119.49 653.35v1.1M123.05 653.35v1.1M127.13 653.35v1.1M132.22 653.35v1.1M137.31 653.35v1.1" stroke="#777" stroke-width="0.6"/>
<path d="M101.67 653.35L106.6 649.81L109.88 643.39L112.35 630.54L113.99 616.09L115.14 603.24L115.96 599.23L116.95 606.45L118.1 624.12L119.41 641.78L120.89 651.42L122.2 653.35Z" fill="#b8b8b8" stroke="#a8a8a8" stroke-width="0.4"/>
<polyline points="91.49,653.35 109.88,653.35 112.35,651.42 113.99,648.21 114.81,647.4 115.63,640.18 116.78,636.97 117.77,630.54 118.75,620.91 119.74,608.06 120.39,600.03 121.05,598.42 121.87,604.85 122.69,616.09 123.35,632.15 124.34,646.6 125.32,651.42 126.31,653.02 127.95,653.35 142.4,653.35" fill="none" stroke="#1a1a1a" stroke-width="0.95" stroke-linejoin="round"/>
<rect x="146.41" y="594.41" width="50.26" height="58.94" fill="#fff" stroke="#999" stroke-width="0.85"/>
<path d="M146.41 650.4h-1M146.41 647.45h-1M146.41 644.51h-1M146.41 641.56h-1M146.41 638.61h-1.6M146.41 635.66h-1M146.41 632.72h-1M146.41 629.77h-1M146.41 626.82h-1M146.41 623.88h-1.6M146.41 620.93h-1M146.41 617.98h-1M146.41 615.04h-1M146.41 612.09h-1M146.41 609.14h-1.6M146.41 606.2h-1M146.41 603.25h-1M146.41 600.3h-1M146.41 597.36h-1" stroke="#888" stroke-width="0.7"/>
<path d="M151.44 653.35v1.1M154.45 653.35v1.1M156.46 653.35v1.1M157.97 653.35v1.1M164.5 653.35v1.1M168.53 653.35v1.1M171.54 653.35v1.1M174.05 653.35v1.1M177.57 653.35v1.1M181.59 653.35v1.1M186.62 653.35v1.1M191.65 653.35v1.1" stroke="#777" stroke-width="0.6"/>
<path d="M154.44 653.35L157.65 649.81L160.06 643.39L162.47 630.54L164.56 616.09L166.16 603.24L166.96 598.42L168.09 608.06L169.37 624.12L170.66 640.18L172.1 649.81L173.71 653.35Z" fill="#b8b8b8" stroke="#a8a8a8" stroke-width="0.4"/>
<polyline points="146.41,653.35 153.64,653.35 156.04,652.7 158.45,651.42 160.86,649.01 163.27,645 165.68,640.18 166.8,635.36 167.77,633.75 168.57,625.72 169.37,612.88 170.18,601.64 170.82,598.42 171.62,603.24 172.42,601.64 173.23,606.45 173.87,616.09 174.51,632.15 175.48,646.6 176.6,652.22 178.53,653.35 195.39,653.35 196.67,649.81" fill="none" stroke="#1a1a1a" stroke-width="0.95" stroke-linejoin="round"/>
<rect x="201.49" y="594.41" width="49.78" height="58.94" fill="#fff" stroke="#999" stroke-width="0.85"/>
<path d="M201.49 650.4h-1M201.49 647.45h-1M201.49 644.51h-1M201.49 641.56h-1M201.49 638.61h-1.6M201.49 635.66h-1M201.49 632.72h-1M201.49 629.77h-1M201.49 626.82h-1M201.49 623.88h-1.6M201.49 620.93h-1M201.49 617.98h-1M201.49 615.04h-1M201.49 612.09h-1M201.49 609.14h-1.6M201.49 606.2h-1M201.49 603.25h-1M201.49 600.3h-1M201.49 597.36h-1" stroke="#888" stroke-width="0.7"/>
<path d="M206.47 653.35v1.1M209.46 653.35v1.1M211.45 653.35v1.1M212.94 653.35v1.1M219.41 653.35v1.1M223.4 653.35v1.1M226.38 653.35v1.1M228.87 653.35v1.1M232.36 653.35v1.1M236.34 653.35v1.1M241.32 653.35v1.1M246.3 653.35v1.1" stroke="#777" stroke-width="0.6"/>
<path d="M208.24 653.35L212.25 649.81L215.46 643.39L217.87 632.15L219.48 619.3L220.76 604.85L221.57 599.23L222.53 606.45L223.65 624.12L224.94 640.18L226.22 649.81L227.51 653.35Z" fill="#b8b8b8" stroke="#a8a8a8" stroke-width="0.4"/>
<polyline points="201.49,653.35 205.83,653.02 208.24,652.22 211.45,651.42 214.66,649.49 217.07,647.4 219.48,645 221.89,640.18 223.49,632.15 224.3,619.3 225.1,604.85 225.74,598.42 226.38,604.85 227.19,612.88 227.83,614.48 228.79,624.12 229.92,633.75 231.04,643.39 232.33,651.42 233.93,653.35 251.27,653.35" fill="none" stroke="#1a1a1a" stroke-width="0.95" stroke-linejoin="round"/>
<rect x="256.36" y="594.36" width="50.05" height="59.5" fill="#fff" stroke="#999" stroke-width="0.85"/>
<path d="M256.36 650.88h-1M256.36 647.91h-1M256.36 644.93h-1M256.36 641.96h-1M256.36 638.98h-1.6M256.36 636.01h-1M256.36 633.03h-1M256.36 630.06h-1M256.36 627.08h-1M256.36 624.11h-1.6M256.36 621.13h-1M256.36 618.16h-1M256.36 615.18h-1M256.36 612.21h-1M256.36 609.23h-1.6M256.36 606.26h-1M256.36 603.29h-1M256.36 600.31h-1M256.36 597.34h-1" stroke="#888" stroke-width="0.7"/>
<path d="M261.37 653.86v1.1M264.37 653.86v1.1M266.37 653.86v1.1M267.87 653.86v1.1M274.38 653.86v1.1M278.38 653.86v1.1M281.39 653.86v1.1M283.89 653.86v1.1M287.39 653.86v1.1M291.4 653.86v1.1M296.4 653.86v1.1M301.41 653.86v1.1" stroke="#777" stroke-width="0.6"/>
<path d="M261.56 653.86L264.39 651.5L267.22 646.77L269.58 639.22L271.47 629.78L272.89 620.33L274.02 609L274.97 600.5L275.53 598.14L276.19 602.39L277.14 615.61L278.36 629.78L279.69 642.05L281.2 650.55L282.8 653.86Z" fill="#b8b8b8" stroke="#a8a8a8" stroke-width="0.4"/>
<polyline points="256.36,653.86 262.5,653.38 265.33,651.97 267.69,650.55 269.58,649.13 271.47,644.89 272.89,639.22 274.3,634.5 275.53,629.78 276.67,623.16 277.61,620.33 278.36,615.61 279.03,613.72 279.69,609.94 280.44,607.11 281.2,604.28 281.86,602.39 282.33,598.14 282.8,601.44 283.28,609 284.03,620.33 284.98,636.39 285.92,647.72 287.05,652.44 288.94,653.38 305.47,653.38 306.41,651.02" fill="none" stroke="#1a1a1a" stroke-width="0.95" stroke-linejoin="round"/>
<rect x="374.5" y="401.5" width="52.09" height="57.75" fill="#fff" stroke="#999" stroke-width="0.85"/>
<path d="M374.5 456.36h-1M374.5 453.47h-1M374.5 450.58h-1M374.5 447.69h-1M374.5 444.81h-1.6M374.5 441.92h-1M374.5 439.03h-1M374.5 436.14h-1M374.5 433.26h-1M374.5 430.37h-1.6M374.5 427.48h-1M374.5 424.59h-1M374.5 421.71h-1M374.5 418.82h-1M374.5 415.93h-1.6M374.5 413.05h-1M374.5 410.16h-1M374.5 407.27h-1M374.5 404.38h-1" stroke="#888" stroke-width="0.7"/>
<path d="M379.71 459.24v1.1M382.83 459.24v1.1M384.91 459.24v1.1M386.48 459.24v1.1M393.25 459.24v1.1M397.42 459.24v1.1M400.54 459.24v1.1M403.14 459.24v1.1M406.79 459.24v1.1M410.96 459.24v1.1M416.17 459.24v1.1M421.38 459.24v1.1" stroke="#777" stroke-width="0.6"/>
<path d="M375.66 459.24L376.49 440.6L377.33 418.97L378.66 407.32L379.99 406.49L381.65 407.32L382.82 405.66L383.98 413.98L385.65 432.28L387.81 448.93L389.47 456.41L390.64 459.24Z" fill="#b8b8b8" stroke="#a8a8a8" stroke-width="0.4"/>
<polyline points="374.5,459.24 375.66,457.25 376.66,432.28 377.66,412.31 378.66,405.66 379.66,407.32 380.65,415.64 381.65,428.96 382.82,440.6 383.98,448.93 384.98,455.58 386.15,456.41 386.98,453.92 387.81,458.08 388.64,459.24 426.58,459.24" fill="none" stroke="#1a1a1a" stroke-width="0.95" stroke-linejoin="round"/>
<rect x="431.58" y="401.5" width="51.59" height="57.75" fill="#fff" stroke="#999" stroke-width="0.85"/>
<path d="M431.58 456.36h-1M431.58 453.47h-1M431.58 450.58h-1M431.58 447.69h-1M431.58 444.81h-1.6M431.58 441.92h-1M431.58 439.03h-1M431.58 436.14h-1M431.58 433.26h-1M431.58 430.37h-1.6M431.58 427.48h-1M431.58 424.59h-1M431.58 421.71h-1M431.58 418.82h-1M431.58 415.93h-1.6M431.58 413.05h-1M431.58 410.16h-1M431.58 407.27h-1M431.58 404.38h-1" stroke="#888" stroke-width="0.7"/>
<path d="M436.74 459.24v1.1M439.83 459.24v1.1M441.9 459.24v1.1M443.44 459.24v1.1M450.15 459.24v1.1M454.28 459.24v1.1M457.37 459.24v1.1M459.95 459.24v1.1M463.56 459.24v1.1M467.69 459.24v1.1M472.85 459.24v1.1M478.01 459.24v1.1" stroke="#777" stroke-width="0.6"/>
<path d="M443.56 459.24L447.72 455.58L450.55 447.26L452.38 432.28L453.88 417.31L455.21 407.32L456.04 405.66L456.87 412.31L457.87 428.96L459.04 447.26L460.53 457.25L461.87 459.24Z" fill="#b8b8b8" stroke="#a8a8a8" stroke-width="0.4"/>
<polyline points="431.58,459.24 436.9,458.91 438.9,457.58 440.23,458.91 443.56,458.58 446.89,456.41 449.38,452.25 451.88,445.6 453.54,432.28 454.54,418.97 455.21,408.99 456.04,406.49 456.87,415.64 457.7,428.96 458.54,437.28 459.7,442.27 461.03,438.94 462.2,438.94 463.2,445.6 464.36,453.92 465.19,458.08 466.86,459.24 473.85,458.91 475.18,458.08 476.51,459.24 483.17,459.24" fill="none" stroke="#1a1a1a" stroke-width="0.95" stroke-linejoin="round"/>
<rect x="488.5" y="402.33" width="52" height="57.91" fill="#fff" stroke="#999" stroke-width="0.85"/>
<path d="M488.5 457.35h-1M488.5 454.45h-1M488.5 451.55h-1M488.5 448.66h-1M488.5 445.76h-1.6M488.5 442.87h-1M488.5 439.97h-1M488.5 437.08h-1M488.5 434.18h-1M488.5 431.28h-1.6M488.5 428.39h-1M488.5 425.49h-1M488.5 422.6h-1M488.5 419.7h-1M488.5 416.81h-1.6M488.5 413.91h-1M488.5 411.02h-1M488.5 408.12h-1M488.5 405.22h-1" stroke="#888" stroke-width="0.7"/>
<path d="M493.7 460.24v1.1M496.82 460.24v1.1M498.9 460.24v1.1M500.46 460.24v1.1M507.22 460.24v1.1M511.38 460.24v1.1M514.5 460.24v1.1M517.1 460.24v1.1M520.74 460.24v1.1M524.9 460.24v1.1M530.1 460.24v1.1M535.3 460.24v1.1" stroke="#777" stroke-width="0.6"/>
<path d="M496.05 460.24L500.24 455.58L503.59 445.6L506.11 430.62L508.29 415.64L509.47 407.32L510.3 406.49L511.14 412.31L512.32 428.96L513.32 445.6L514.5 455.58L515.84 460.24Z" fill="#b8b8b8" stroke="#a8a8a8" stroke-width="0.4"/>
<polyline points="488.5,460.24 496.05,460.24 501.08,458.91 504.43,458.08 506.95,456.91 509.13,455.58 510.81,455.91 512.82,457.25 514.83,457.58 516.18,456.41 517.52,453.92 518.36,440.6 519.2,418.97 520.03,407.32 520.71,405.66 521.38,415.64 522.05,440.6 522.89,455.58 524.23,459.74 526.24,460.24 540.5,460.24" fill="none" stroke="#1a1a1a" stroke-width="0.95" stroke-linejoin="round"/>
<rect x="545.08" y="402.33" width="52.32" height="58.37" fill="#fff" stroke="#999" stroke-width="0.85"/>
<path d="M545.08 457.78h-1M545.08 454.86h-1M545.08 451.94h-1M545.08 449.03h-1M545.08 446.11h-1.6M545.08 443.19h-1M545.08 440.27h-1M545.08 437.35h-1M545.08 434.43h-1M545.08 431.51h-1.6M545.08 428.6h-1M545.08 425.68h-1M545.08 422.76h-1M545.08 419.84h-1M545.08 416.92h-1.6M545.08 414h-1M545.08 411.08h-1M545.08 408.17h-1M545.08 405.25h-1" stroke="#888" stroke-width="0.7"/>
<path d="M550.31 460.7v1.1M553.45 460.7v1.1M555.54 460.7v1.1M557.11 460.7v1.1M563.91 460.7v1.1M568.1 460.7v1.1M571.24 460.7v1.1M573.86 460.7v1.1M577.52 460.7v1.1M581.7 460.7v1.1M586.94 460.7v1.1M592.17 460.7v1.1" stroke="#777" stroke-width="0.6"/>
<path d="M554.36 460.7L557.74 456.84L560.27 450.97L561.96 440.91L563.31 427.49L564.49 412.39L565.5 406.52L566.51 412.39L567.86 429.17L569.21 444.26L570.56 456L572.08 460.7Z" fill="#b8b8b8" stroke="#a8a8a8" stroke-width="0.4"/>
<polyline points="545.08,460.7 549.3,460.2 550.99,458.02 552.34,459.36 554.36,460.2 556.05,459.36 558.07,457.68 560.27,452.65 561.96,445.94 563.14,437.55 564.15,425.81 565.16,410.72 565.84,406.52 566.68,420.78 567.53,415.75 568.37,414.07 569.04,420.78 569.89,439.23 570.73,429.17 571.58,420.78 572.25,424.13 572.93,435.88 573.77,449.29 574.95,457.68 576.3,460.2 577.99,460.7 597.4,460.7" fill="none" stroke="#1a1a1a" stroke-width="0.95" stroke-linejoin="round"/>
<rect x="602.53" y="402.96" width="52.08" height="58.49" fill="#fff" stroke="#999" stroke-width="0.85"/>
<path d="M602.53 458.53h-1M602.53 455.6h-1M602.53 452.68h-1M602.53 449.75h-1M602.53 446.83h-1.6M602.53 443.91h-1M602.53 440.98h-1M602.53 438.06h-1M602.53 435.13h-1M602.53 432.21h-1.6M602.53 429.28h-1M602.53 426.36h-1M602.53 423.43h-1M602.53 420.51h-1M602.53 417.58h-1.6M602.53 414.66h-1M602.53 411.74h-1M602.53 408.81h-1M602.53 405.89h-1" stroke="#888" stroke-width="0.7"/>
<path d="M607.74 461.45v1.1M610.86 461.45v1.1M612.94 461.45v1.1M614.51 461.45v1.1M621.28 461.45v1.1M625.44 461.45v1.1M628.57 461.45v1.1M631.17 461.45v1.1M634.82 461.45v1.1M638.98 461.45v1.1M644.19 461.45v1.1M649.4 461.45v1.1" stroke="#777" stroke-width="0.6"/>
<path d="M607.43 461.45L610.26 459.38L613.09 454.66L615.45 447.11L617.34 436.74L618.94 425.42L620.45 413.15L621.58 407.49L622.53 406.55L623.28 410.32L624.23 422.58L625.36 438.62L626.49 451.83L627.72 459.38L629.13 461.45Z" fill="#b8b8b8" stroke="#a8a8a8" stroke-width="0.4"/>
<polyline points="602.53,461.45 615.45,461.26 616.87,453.72 617.81,442.4 618.57,440.51 619.23,436.74 619.89,429.19 620.45,427.3 621.02,436.74 621.58,439.57 622.15,427.3 622.72,408.43 623.09,406.55 623.66,417.87 624.42,422.58 625.17,415.04 625.74,415.98 626.11,427.3 626.68,438.62 627.43,451.83 628,455.6 629.13,453.25 630.08,455.6 631.02,460.32 631.96,461.45 637.15,461.45 638.09,458.43 638.75,457.02 639.51,459.38 640.45,461.45 654.6,461.45" fill="none" stroke="#1a1a1a" stroke-width="0.95" stroke-linejoin="round"/>
<rect x="374.5" y="465.5" width="52.09" height="57.41" fill="#fff" stroke="#999" stroke-width="0.85"/>
<path d="M374.5 520.04h-1M374.5 517.17h-1M374.5 514.3h-1M374.5 511.43h-1M374.5 508.56h-1.6M374.5 505.69h-1M374.5 502.82h-1M374.5 499.94h-1M374.5 497.07h-1M374.5 494.2h-1.6M374.5 491.33h-1M374.5 488.46h-1M374.5 485.59h-1M374.5 482.72h-1M374.5 479.85h-1.6M374.5 476.98h-1M374.5 474.11h-1M374.5 471.24h-1M374.5 468.37h-1" stroke="#888" stroke-width="0.7"/>
<path d="M379.71 522.91v1.1M382.83 522.91v1.1M384.91 522.91v1.1M386.48 522.91v1.1M393.25 522.91v1.1M397.42 522.91v1.1M400.54 522.91v1.1M403.14 522.91v1.1M406.79 522.91v1.1M410.96 522.91v1.1M416.17 522.91v1.1M421.38 522.91v1.1" stroke="#777" stroke-width="0.6"/>
<path d="M375 522.91L375.33 496.28L376.16 479.64L377.82 477.98L379.49 474.65L381.15 470.49L382.32 472.99L383.65 484.63L385.31 501.28L387.31 514.59L388.97 522.91Z" fill="#b8b8b8" stroke="#a8a8a8" stroke-width="0.4"/>
<polyline points="374.5,522.91 375,504.6 375.66,482.97 376.66,469.66 377.49,476.31 378.32,484.63 379.32,492.96 380.32,482.97 381.32,476.31 382.32,477.15 383.32,476.31 383.98,487.96 384.65,509.6 385.65,522.08 386.98,522.91 426.58,522.91" fill="none" stroke="#1a1a1a" stroke-width="0.95" stroke-linejoin="round"/>
<rect x="431.58" y="465.5" width="51.09" height="57.41" fill="#fff" stroke="#999" stroke-width="0.85"/>
<path d="M431.58 520.04h-1M431.58 517.17h-1M431.58 514.3h-1M431.58 511.43h-1M431.58 508.56h-1.6M431.58 505.69h-1M431.58 502.82h-1M431.58 499.94h-1M431.58 497.07h-1M431.58 494.2h-1.6M431.58 491.33h-1M431.58 488.46h-1M431.58 485.59h-1M431.58 482.72h-1M431.58 479.85h-1.6M431.58 476.98h-1M431.58 474.11h-1M431.58 471.24h-1M431.58 468.37h-1" stroke="#888" stroke-width="0.7"/>
<path d="M436.69 522.91v1.1M439.75 522.91v1.1M441.8 522.91v1.1M443.33 522.91v1.1M449.97 522.91v1.1M454.06 522.91v1.1M457.12 522.91v1.1M459.68 522.91v1.1M463.25 522.91v1.1M467.34 522.91v1.1M472.45 522.91v1.1M477.56 522.91v1.1" stroke="#777" stroke-width="0.6"/>
<path d="M445.22 522.91L449.38 519.58L451.88 512.93L453.88 499.61L455.21 486.3L456.37 474.65L457.21 470.49L458.04 477.98L459.04 496.28L460.2 512.93L461.53 521.25L462.86 522.91Z" fill="#b8b8b8" stroke="#a8a8a8" stroke-width="0.4"/>
<polyline points="431.58,522.91 450.22,522.58 452.71,520.41 454.88,516.25 456.54,507.93 457.7,496.28 458.87,484.63 459.87,474.65 460.7,470.49 461.37,472.99 462.03,476.31 462.86,489.63 463.7,507.93 464.53,519.58 465.53,522.58 467.19,522.91 482.67,522.91" fill="none" stroke="#1a1a1a" stroke-width="0.95" stroke-linejoin="round"/>
<rect x="488.5" y="466" width="51.59" height="58.25" fill="#fff" stroke="#999" stroke-width="0.85"/>
<path d="M488.5 521.33h-1M488.5 518.42h-1M488.5 515.5h-1M488.5 512.59h-1M488.5 509.68h-1.6M488.5 506.77h-1M488.5 503.86h-1M488.5 500.94h-1M488.5 498.03h-1M488.5 495.12h-1.6M488.5 492.21h-1M488.5 489.29h-1M488.5 486.38h-1M488.5 483.47h-1M488.5 480.56h-1.6M488.5 477.64h-1M488.5 474.73h-1M488.5 471.82h-1M488.5 468.91h-1" stroke="#888" stroke-width="0.7"/>
<path d="M493.66 524.24v1.1M496.75 524.24v1.1M498.81 524.24v1.1M500.36 524.24v1.1M507.07 524.24v1.1M511.2 524.24v1.1M514.29 524.24v1.1M516.87 524.24v1.1M520.48 524.24v1.1M524.61 524.24v1.1M529.77 524.24v1.1M534.93 524.24v1.1" stroke="#777" stroke-width="0.6"/>
<path d="M497.65 524.24L500.98 519.58L503.47 512.93L505.64 499.61L507.3 486.3L508.47 476.31L509.63 470.49L510.63 472.99L511.79 484.63L512.96 499.61L514.29 514.59L515.62 522.08L516.79 524.24Z" fill="#b8b8b8" stroke="#a8a8a8" stroke-width="0.4"/>
<polyline points="488.5,524.24 495.99,524.24 499.31,522.91 501.31,521.25 502.64,516.25 503.97,512.09 505.64,506.27 506.8,496.28 507.97,482.97 509.3,487.96 510.3,494.62 511.3,482.97 512.29,474.65 513.29,470.49 514.12,476.31 514.96,487.96 515.62,492.96 516.45,484.63 517.29,489.63 518.12,501.28 519.28,509.6 520.45,514.59 521.78,511.26 522.61,514.59 523.44,521.25 524.28,524.24 540.09,524.24" fill="none" stroke="#1a1a1a" stroke-width="0.95" stroke-linejoin="round"/>
<rect x="545.08" y="466.4" width="52.32" height="57.84" fill="#fff" stroke="#999" stroke-width="0.85"/>
<path d="M545.08 521.35h-1M545.08 518.46h-1M545.08 515.57h-1M545.08 512.67h-1M545.08 509.78h-1.6M545.08 506.89h-1M545.08 504h-1M545.08 501.1h-1M545.08 498.21h-1M545.08 495.32h-1.6M545.08 492.43h-1M545.08 489.54h-1M545.08 486.64h-1M545.08 483.75h-1M545.08 480.86h-1.6M545.08 477.97h-1M545.08 475.08h-1M545.08 472.18h-1M545.08 469.29h-1" stroke="#888" stroke-width="0.7"/>
<path d="M550.31 524.24v1.1M553.45 524.24v1.1M555.54 524.24v1.1M557.11 524.24v1.1M563.91 524.24v1.1M568.1 524.24v1.1M571.24 524.24v1.1M573.86 524.24v1.1M577.52 524.24v1.1M581.7 524.24v1.1M586.94 524.24v1.1M592.17 524.24v1.1" stroke="#777" stroke-width="0.6"/>
<path d="M553.52 524.24L557.74 520.44L561.11 513L563.14 499.78L564.83 483.26L565.84 473.34L566.68 470.86L567.53 476.65L568.71 493.17L570.06 509.7L571.58 520.44L572.93 524.24Z" fill="#b8b8b8" stroke="#a8a8a8" stroke-width="0.4"/>
<polyline points="545.08,524.24 552.67,524.24 556.05,522.92 559.42,519.61 561.45,511.35 562.8,503.09 563.98,494 564.99,484.91 565.84,476.65 566.68,470.86 567.36,476.65 567.86,488.21 568.54,491.52 569.21,493.17 570.06,501.44 571.24,504.74 572.59,508.05 573.94,513 575.29,516.31 576.64,514.66 577.65,513 578.33,516.31 579.34,520.44 580.69,523.75 582.21,524.24 597.4,524.24" fill="none" stroke="#1a1a1a" stroke-width="0.95" stroke-linejoin="round"/>
<rect x="602.53" y="466.96" width="52.08" height="58.49" fill="#fff" stroke="#999" stroke-width="0.85"/>
<path d="M602.53 522.53h-1M602.53 519.6h-1M602.53 516.68h-1M602.53 513.75h-1M602.53 510.83h-1.6M602.53 507.91h-1M602.53 504.98h-1M602.53 502.06h-1M602.53 499.13h-1M602.53 496.21h-1.6M602.53 493.28h-1M602.53 490.36h-1M602.53 487.43h-1M602.53 484.51h-1M602.53 481.58h-1.6M602.53 478.66h-1M602.53 475.74h-1M602.53 472.81h-1M602.53 469.89h-1" stroke="#888" stroke-width="0.7"/>
<path d="M607.74 525.45v1.1M610.86 525.45v1.1M612.94 525.45v1.1M614.51 525.45v1.1M621.28 525.45v1.1M625.44 525.45v1.1M628.57 525.45v1.1M631.17 525.45v1.1M634.82 525.45v1.1M638.98 525.45v1.1M644.19 525.45v1.1M649.4 525.45v1.1" stroke="#777" stroke-width="0.6"/>
<path d="M612.15 525.45L614.98 523.38L617.34 518.66L619.23 509.23L620.64 498.85L622.06 486.58L623.28 475.26L624.23 471.49L624.89 473.38L625.64 481.87L626.58 496.02L627.72 510.17L628.94 520.55L630.26 525.45Z" fill="#b8b8b8" stroke="#a8a8a8" stroke-width="0.4"/>
<polyline points="602.53,525.45 608.38,525.26 610.26,524.32 612.62,524.32 614.51,523.38 616.4,521.02 618.28,518.66 619.51,513.94 620.45,506.4 621.4,497.91 622.15,488.47 622.81,483.75 623.47,480.92 624.04,474.32 624.42,470.55 624.89,473.38 625.36,476.21 625.83,475.26 626.3,481.87 626.77,491.3 627.43,502.62 628.19,513 629.13,519.6 630.55,522.43 631.96,525.08 633.85,525.45 654.6,525.45" fill="none" stroke="#1a1a1a" stroke-width="0.95" stroke-linejoin="round"/>
<rect x="374.5" y="530" width="52.09" height="57.75" fill="#fff" stroke="#999" stroke-width="0.85"/>
<path d="M374.5 584.85h-1M374.5 581.97h-1M374.5 579.08h-1M374.5 576.19h-1M374.5 573.31h-1.6M374.5 570.42h-1M374.5 567.53h-1M374.5 564.64h-1M374.5 561.76h-1M374.5 558.87h-1.6M374.5 555.98h-1M374.5 553.09h-1M374.5 550.21h-1M374.5 547.32h-1M374.5 544.43h-1.6M374.5 541.54h-1M374.5 538.66h-1M374.5 535.77h-1M374.5 532.88h-1" stroke="#888" stroke-width="0.7"/>
<path d="M379.71 587.74v1.1M382.83 587.74v1.1M384.91 587.74v1.1M386.48 587.74v1.1M393.25 587.74v1.1M397.42 587.74v1.1M400.54 587.74v1.1M403.14 587.74v1.1M406.79 587.74v1.1M410.96 587.74v1.1M416.17 587.74v1.1M421.38 587.74v1.1" stroke="#777" stroke-width="0.6"/>
<path d="M375.33 587.74L376.16 568.6L376.99 551.96L378.32 546.97L379.99 540.31L381.32 534.49L382.48 538.65L383.98 555.29L385.65 571.93L387.31 583.58L388.64 587.74Z" fill="#b8b8b8" stroke="#a8a8a8" stroke-width="0.4"/>
<polyline points="374.5,587.74 375,576.93 375.66,568.6 376.66,551.96 377.33,545.31 378.16,548.63 378.99,550.3 379.99,555.29 380.65,543.64 381.32,533.66 382.32,540.31 383.15,553.63 383.98,565.28 384.98,576.93 386.15,585.25 387.31,587.74 426.58,587.74" fill="none" stroke="#1a1a1a" stroke-width="0.95" stroke-linejoin="round"/>
<rect x="431.58" y="530" width="51.59" height="57.75" fill="#fff" stroke="#999" stroke-width="0.85"/>
<path d="M431.58 584.85h-1M431.58 581.97h-1M431.58 579.08h-1M431.58 576.19h-1M431.58 573.31h-1.6M431.58 570.42h-1M431.58 567.53h-1M431.58 564.64h-1M431.58 561.76h-1M431.58 558.87h-1.6M431.58 555.98h-1M431.58 553.09h-1M431.58 550.21h-1M431.58 547.32h-1M431.58 544.43h-1.6M431.58 541.54h-1M431.58 538.66h-1M431.58 535.77h-1M431.58 532.88h-1" stroke="#888" stroke-width="0.7"/>
<path d="M436.74 587.74v1.1M439.83 587.74v1.1M441.9 587.74v1.1M443.44 587.74v1.1M450.15 587.74v1.1M454.28 587.74v1.1M457.37 587.74v1.1M459.95 587.74v1.1M463.56 587.74v1.1M467.69 587.74v1.1M472.85 587.74v1.1M478.01 587.74v1.1" stroke="#777" stroke-width="0.6"/>
<path d="M443.56 587.74L447.72 584.41L450.55 578.59L452.21 566.94L453.54 551.96L454.54 540.31L455.21 534.49L456.21 540.31L457.21 556.96L458.54 573.6L459.87 583.58L461.2 587.74Z" fill="#b8b8b8" stroke="#a8a8a8" stroke-width="0.4"/>
<polyline points="431.58,587.74 441.9,587.74 445.22,586.91 448.55,584.41 451.05,580.25 452.71,575.26 454.38,565.28 455.21,560.28 456.54,558.62 457.54,551.96 458.2,543.64 459.04,538.65 459.87,540.31 460.53,533.66 461.37,540.31 462.03,551.96 462.86,560.28 463.53,568.6 464.2,576.93 465.03,583.58 466.03,586.08 468.52,586.91 475.18,587.24 483.17,587.24" fill="none" stroke="#1a1a1a" stroke-width="0.95" stroke-linejoin="round"/>
<rect x="488.5" y="530" width="52" height="58.25" fill="#fff" stroke="#999" stroke-width="0.85"/>
<path d="M488.5 585.33h-1M488.5 582.42h-1M488.5 579.5h-1M488.5 576.59h-1M488.5 573.68h-1.6M488.5 570.77h-1M488.5 567.86h-1M488.5 564.94h-1M488.5 562.03h-1M488.5 559.12h-1.6M488.5 556.21h-1M488.5 553.29h-1M488.5 550.38h-1M488.5 547.47h-1M488.5 544.56h-1.6M488.5 541.64h-1M488.5 538.73h-1M488.5 535.82h-1M488.5 532.91h-1" stroke="#888" stroke-width="0.7"/>
<path d="M493.7 588.24v1.1M496.82 588.24v1.1M498.9 588.24v1.1M500.46 588.24v1.1M507.22 588.24v1.1M511.38 588.24v1.1M514.5 588.24v1.1M517.1 588.24v1.1M520.74 588.24v1.1M524.9 588.24v1.1M530.1 588.24v1.1M535.3 588.24v1.1" stroke="#777" stroke-width="0.6"/>
<path d="M496.88 588.24L501.08 584.41L504.1 575.26L506.11 560.28L507.79 546.97L509.13 536.99L509.97 533.66L510.81 540.31L511.98 555.29L513.16 570.27L514.5 581.92L516.18 586.91L517.52 588.24Z" fill="#b8b8b8" stroke="#a8a8a8" stroke-width="0.4"/>
<polyline points="488.5,588.24 502.76,588.24 506.11,587.74 507.79,585.25 509.13,580.25 510.3,571.93 511.14,566.94 511.81,566.11 512.49,570.27 513.16,576.93 514.16,578.59 515.34,581.92 516.51,585.25 517.52,581.92 518.36,568.6 519.03,546.97 519.7,533.66 520.37,543.64 521.04,563.61 521.88,581.92 522.89,587.74 524.56,588.24 540.5,588.24" fill="none" stroke="#1a1a1a" stroke-width="0.95" stroke-linejoin="round"/>
<rect x="544.7" y="530" width="51.97" height="58.25" fill="#fff" stroke="#999" stroke-width="0.85"/>
<path d="M544.7 585.33h-1M544.7 582.42h-1M544.7 579.5h-1M544.7 576.59h-1M544.7 573.68h-1.6M544.7 570.77h-1M544.7 567.86h-1M544.7 564.94h-1M544.7 562.03h-1M544.7 559.12h-1.6M544.7 556.21h-1M544.7 553.29h-1M544.7 550.38h-1M544.7 547.47h-1M544.7 544.56h-1.6M544.7 541.64h-1M544.7 538.73h-1M544.7 535.82h-1M544.7 532.91h-1" stroke="#888" stroke-width="0.7"/>
<path d="M549.9 588.24v1.1M553.01 588.24v1.1M555.09 588.24v1.1M556.65 588.24v1.1M563.41 588.24v1.1M567.57 588.24v1.1M570.68 588.24v1.1M573.28 588.24v1.1M576.92 588.24v1.1M581.08 588.24v1.1M586.27 588.24v1.1M591.47 588.24v1.1" stroke="#777" stroke-width="0.6"/>
<path d="M548.89 588.24L552.24 584.41L554.76 576.93L556.43 563.61L557.61 546.97L558.45 536.99L558.95 533.66L559.62 540.31L560.63 558.62L561.63 575.26L562.8 584.41L563.98 588.24Z" fill="#b8b8b8" stroke="#a8a8a8" stroke-width="0.4"/>
<polyline points="544.7,588.24 563.14,588.24 564.31,587.74 564.98,576.93 565.49,551.96 565.99,533.66 566.49,543.64 567,568.6 567.5,585.25 568.17,588.24 596.67,588.24" fill="none" stroke="#1a1a1a" stroke-width="0.95" stroke-linejoin="round"/>
<rect x="602.53" y="530.3" width="52.08" height="58.96" fill="#fff" stroke="#999" stroke-width="0.85"/>
<path d="M602.53 586.32h-1M602.53 583.37h-1M602.53 580.42h-1M602.53 577.47h-1M602.53 574.52h-1.6M602.53 571.58h-1M602.53 568.63h-1M602.53 565.68h-1M602.53 562.73h-1M602.53 559.78h-1.6M602.53 556.83h-1M602.53 553.89h-1M602.53 550.94h-1M602.53 547.99h-1M602.53 545.04h-1.6M602.53 542.09h-1M602.53 539.15h-1M602.53 536.2h-1M602.53 533.25h-1" stroke="#888" stroke-width="0.7"/>
<path d="M607.74 589.26v1.1M610.86 589.26v1.1M612.94 589.26v1.1M614.51 589.26v1.1M621.28 589.26v1.1M625.44 589.26v1.1M628.57 589.26v1.1M631.17 589.26v1.1M634.82 589.26v1.1M638.98 589.26v1.1M644.19 589.26v1.1M649.4 589.26v1.1" stroke="#777" stroke-width="0.6"/>
<path d="M612.15 589.26L614.98 587.38L617.34 581.72L619.23 574.17L620.64 564.74L622.06 551.53L623.28 538.32L623.94 534.08L624.7 537.38L625.64 547.75L626.77 562.85L628 576.06L629.32 585.49L630.83 589.26Z" fill="#b8b8b8" stroke="#a8a8a8" stroke-width="0.4"/>
<polyline points="602.53,589.26 608.38,589.08 610.26,588.13 612.15,588.32 614.04,587.38 615.92,584.55 617.34,580.77 618.57,577 619.7,571.34 620.64,567.57 621.4,566.62 622.06,561.91 622.72,548.7 623.28,538.32 623.75,534.08 624.23,539.26 624.89,541.15 625.55,547.75 626.3,555.3 627.25,566.62 628.38,576.06 629.6,583.6 631.02,588.32 632.43,589.26 654.6,589.26" fill="none" stroke="#1a1a1a" stroke-width="0.95" stroke-linejoin="round"/>
<rect x="374.5" y="594.5" width="52.09" height="58" fill="#fff" stroke="#999" stroke-width="0.85"/>
<path d="M374.5 649.6h-1M374.5 646.7h-1M374.5 643.8h-1M374.5 640.9h-1M374.5 638h-1.6M374.5 635.1h-1M374.5 632.2h-1M374.5 629.3h-1M374.5 626.4h-1M374.5 623.5h-1.6M374.5 620.6h-1M374.5 617.7h-1M374.5 614.8h-1M374.5 611.9h-1M374.5 609h-1.6M374.5 606.1h-1M374.5 603.2h-1M374.5 600.3h-1M374.5 597.4h-1" stroke="#888" stroke-width="0.7"/>
<path d="M379.71 652.5v1.1M382.83 652.5v1.1M384.91 652.5v1.1M386.48 652.5v1.1M393.25 652.5v1.1M397.42 652.5v1.1M400.54 652.5v1.1M403.14 652.5v1.1M406.79 652.5v1.1M410.96 652.5v1.1M416.17 652.5v1.1M421.38 652.5v1.1" stroke="#777" stroke-width="0.6"/>
<path d="M375.33 652.5L375.99 635.69L376.99 617.19L378.66 602.06L380.32 598.7L381.65 599.54L382.98 603.74L384.48 620.56L386.15 637.37L387.98 649.14L389.64 652.5Z" fill="#b8b8b8" stroke="#a8a8a8" stroke-width="0.4"/>
<polyline points="374.5,652.5 374.83,645.77 375.66,644.09 376.49,625.6 377.33,608.79 378.16,597.86 378.99,608.79 379.82,625.6 380.32,628.96 381.15,627.28 381.99,625.6 382.82,627.28 383.65,639.05 384.65,649.14 385.98,651.66 387.81,652.5 426.58,652.5" fill="none" stroke="#1a1a1a" stroke-width="0.95" stroke-linejoin="round"/>
<rect x="431.58" y="594.5" width="51.59" height="58" fill="#fff" stroke="#999" stroke-width="0.85"/>
<path d="M431.58 649.6h-1M431.58 646.7h-1M431.58 643.8h-1M431.58 640.9h-1M431.58 638h-1.6M431.58 635.1h-1M431.58 632.2h-1M431.58 629.3h-1M431.58 626.4h-1M431.58 623.5h-1.6M431.58 620.6h-1M431.58 617.7h-1M431.58 614.8h-1M431.58 611.9h-1M431.58 609h-1.6M431.58 606.1h-1M431.58 603.2h-1M431.58 600.3h-1M431.58 597.4h-1" stroke="#888" stroke-width="0.7"/>
<path d="M436.74 652.5v1.1M439.83 652.5v1.1M441.9 652.5v1.1M443.44 652.5v1.1M450.15 652.5v1.1M454.28 652.5v1.1M457.37 652.5v1.1M459.95 652.5v1.1M463.56 652.5v1.1M467.69 652.5v1.1M472.85 652.5v1.1M478.01 652.5v1.1" stroke="#777" stroke-width="0.6"/>
<path d="M445.22 652.5L449.38 649.98L451.88 642.41L453.88 627.28L455.21 612.15L456.37 601.22L457.21 598.7L458.04 605.42L459.04 623.92L460.2 640.73L461.53 649.98L462.86 652.5Z" fill="#b8b8b8" stroke="#a8a8a8" stroke-width="0.4"/>
<polyline points="431.58,652.5 440.23,652.16 445.22,651.66 449.38,650.82 451.88,647.46 453.88,642.41 455.21,637.37 456.21,628.96 456.87,617.19 457.54,605.42 458.2,597.86 459.04,605.42 459.87,608.79 460.7,612.15 461.53,617.19 462.36,625.6 463.2,634.01 464.03,642.41 464.86,649.14 466.03,651.66 468.52,652.16 471.85,651.83 473.85,652.5 483.17,652.5" fill="none" stroke="#1a1a1a" stroke-width="0.95" stroke-linejoin="round"/>
<rect x="488.5" y="594.5" width="51.59" height="58.6" fill="#fff" stroke="#999" stroke-width="0.85"/>
<path d="M488.5 650.17h-1M488.5 647.24h-1M488.5 644.31h-1M488.5 641.38h-1M488.5 638.45h-1.6M488.5 635.52h-1M488.5 632.59h-1M488.5 629.66h-1M488.5 626.73h-1M488.5 623.8h-1.6M488.5 620.87h-1M488.5 617.94h-1M488.5 615.01h-1M488.5 612.08h-1M488.5 609.15h-1.6M488.5 606.22h-1M488.5 603.29h-1M488.5 600.36h-1M488.5 597.43h-1" stroke="#888" stroke-width="0.7"/>
<path d="M493.66 653.1v1.1M496.75 653.1v1.1M498.81 653.1v1.1M500.36 653.1v1.1M507.07 653.1v1.1M511.2 653.1v1.1M514.29 653.1v1.1M516.87 653.1v1.1M520.48 653.1v1.1M524.61 653.1v1.1M529.77 653.1v1.1M534.93 653.1v1.1" stroke="#777" stroke-width="0.6"/>
<path d="M496.82 653.1L500.98 648.85L503.97 641.21L505.97 627.62L507.63 612.33L508.8 602.14L509.63 598.74L510.63 607.24L511.79 624.22L512.96 639.51L514.29 648.85L515.96 653.1Z" fill="#b8b8b8" stroke="#a8a8a8" stroke-width="0.4"/>
<polyline points="488.5,653.1 495.99,653.1 499.31,652.25 501.81,651.4 504.31,651.74 506.3,652.25 507.63,646.31 508.8,642.06 509.63,637.81 510.46,632.72 511.3,622.52 512.13,607.24 512.96,598.74 513.63,605.54 514.29,608.93 515.12,607.24 515.96,615.73 516.79,629.32 517.62,641.21 518.45,649.7 519.28,653.1 540.09,653.1" fill="none" stroke="#1a1a1a" stroke-width="0.95" stroke-linejoin="round"/>
<rect x="544.58" y="594.5" width="52.09" height="58.6" fill="#fff" stroke="#999" stroke-width="0.85"/>
<path d="M544.58 650.17h-1M544.58 647.24h-1M544.58 644.31h-1M544.58 641.38h-1M544.58 638.45h-1.6M544.58 635.52h-1M544.58 632.59h-1M544.58 629.66h-1M544.58 626.73h-1M544.58 623.8h-1.6M544.58 620.87h-1M544.58 617.94h-1M544.58 615.01h-1M544.58 612.08h-1M544.58 609.15h-1.6M544.58 606.22h-1M544.58 603.29h-1M544.58 600.36h-1M544.58 597.43h-1" stroke="#888" stroke-width="0.7"/>
<path d="M549.79 653.1v1.1M552.91 653.1v1.1M555 653.1v1.1M556.56 653.1v1.1M563.33 653.1v1.1M567.5 653.1v1.1M570.62 653.1v1.1M573.23 653.1v1.1M576.87 653.1v1.1M581.04 653.1v1.1M586.25 653.1v1.1M591.46 653.1v1.1" stroke="#777" stroke-width="0.6"/>
<path d="M554.23 653.1L557.56 649.7L560.06 642.91L562.22 629.32L563.55 614.03L564.55 602.14L565.21 598.74L566.21 605.54L567.54 622.52L569.21 639.51L570.87 649.7L572.54 653.1Z" fill="#b8b8b8" stroke="#a8a8a8" stroke-width="0.4"/>
<polyline points="544.58,653.1 550.9,653.1 552.23,650.55 553.4,651.4 554.56,653.1 556.73,651.4 559.22,644.61 560.55,641.21 561.72,639.51 562.88,629.32 564.22,619.13 565.21,610.63 566.21,608.93 567.21,605.54 568.04,598.74 568.88,608.93 569.71,620.83 570.54,624.22 571.37,615.73 572.2,602.14 572.87,598.74 573.54,608.93 573.87,625.92 574.7,634.41 575.53,642.91 576.2,649.7 576.86,653.1 596.67,653.1" fill="none" stroke="#1a1a1a" stroke-width="0.95" stroke-linejoin="round"/>
<rect x="602.25" y="594.83" width="52.36" height="58.68" fill="#fff" stroke="#999" stroke-width="0.85"/>
<path d="M602.25 650.58h-1M602.25 647.64h-1M602.25 644.71h-1M602.25 641.77h-1M602.25 638.84h-1.6M602.25 635.91h-1M602.25 632.97h-1M602.25 630.04h-1M602.25 627.1h-1M602.25 624.17h-1.6M602.25 621.24h-1M602.25 618.3h-1M602.25 615.37h-1M602.25 612.43h-1M602.25 609.5h-1.6M602.25 606.57h-1M602.25 603.63h-1M602.25 600.7h-1M602.25 597.76h-1" stroke="#888" stroke-width="0.7"/>
<path d="M607.48 653.51v1.1M610.62 653.51v1.1M612.72 653.51v1.1M614.29 653.51v1.1M621.09 653.51v1.1M625.28 653.51v1.1M628.42 653.51v1.1M631.04 653.51v1.1M634.71 653.51v1.1M638.9 653.51v1.1M644.13 653.51v1.1M649.37 653.51v1.1" stroke="#777" stroke-width="0.6"/>
<path d="M612.15 653.51L614.98 650.49L617.34 644.83L618.94 636.34L620.45 625.96L621.58 615.58L622.53 604.26L623.09 599.55L623.75 603.32L624.6 615.58L625.74 629.74L627.06 641.06L628.38 649.55L629.89 653.51Z" fill="#b8b8b8" stroke="#a8a8a8" stroke-width="0.4"/>
<polyline points="602.25,653.51 606.49,652.85 608.38,651.91 609.79,653.32 611.21,651.91 613.09,650.96 614.98,647.66 616.4,644.83 617.81,642.94 618.75,639.17 619.89,631.62 620.92,622.19 621.77,617.47 622.53,607.09 623,599.55 623.47,605.21 624.23,606.15 624.89,611.81 625.64,618.42 626.49,627.85 627.43,632.57 628.38,635.4 629.32,634.45 630.08,630.68 630.55,632.57 631.02,639.17 631.77,646.72 632.72,650.49 633.85,652.85 635.74,653.32 654.6,653.51" fill="none" stroke="#1a1a1a" stroke-width="0.95" stroke-linejoin="round"/>
<path d="M306.41 400.36V459.57" stroke="#5a5a5a" stroke-width="0.9"/>
<path d="M197 551.8V588.35" stroke="#555" stroke-width="0.9"/>
<path d="M197 482.23V523.83" stroke="#777" stroke-width="0.9"/>
<path d="M252.4 507.19V523.83" stroke="#777" stroke-width="0.9"/>
<text x="70.1" y="397.7" font-size="11" font-weight="bold" text-anchor="middle" fill="#000" stroke="#000" stroke-width="0.3">0</text>
<text x="116" y="397.7" font-size="11" font-weight="bold" text-anchor="middle" fill="#000" stroke="#000" stroke-width="0.3">18</text>
<text x="170.5" y="397.7" font-size="11" font-weight="bold" text-anchor="middle" fill="#000" stroke="#000" stroke-width="0.3">56</text>
<text x="222.4" y="397.7" font-size="11" font-weight="bold" text-anchor="middle" fill="#000" stroke="#000" stroke-width="0.3">113</text>
<text x="274.5" y="397.7" font-size="11" font-weight="bold" text-anchor="middle" fill="#000" stroke="#000" stroke-width="0.3">168</text>
<text x="401.1" y="392.7" font-size="11" font-weight="bold" text-anchor="middle" fill="#000" stroke="#000" stroke-width="0.3">0</text>
<text x="450.8" y="392.7" font-size="11" font-weight="bold" text-anchor="middle" fill="#000" stroke="#000" stroke-width="0.3">18</text>
<text x="513.9" y="392.7" font-size="11" font-weight="bold" text-anchor="middle" fill="#000" stroke="#000" stroke-width="0.3">56</text>
<text x="569.8" y="392.7" font-size="11" font-weight="bold" text-anchor="middle" fill="#000" stroke="#000" stroke-width="0.3">113</text>
<text x="633.7" y="392.7" font-size="11" font-weight="bold" text-anchor="middle" fill="#000" stroke="#000" stroke-width="0.3">168</text>
<text x="22.4" y="416.7" font-size="11.6" font-weight="bold" text-anchor="middle" fill="#000" transform="rotate(-90 22.4 416.7)">DMSO</text>
<text x="22.4" y="479.2" font-size="11.6" font-weight="bold" text-anchor="middle" fill="#000" transform="rotate(-90 22.4 479.2)">H</text>
<text x="22.4" y="552.2" font-size="11.6" font-weight="bold" text-anchor="middle" fill="#000" transform="rotate(-90 22.4 552.2)">N</text>
<text x="25.4" y="507.6" font-size="8" font-weight="bold" text-anchor="middle" fill="#000" transform="rotate(-90 25.4 507.6)">% of Max</text>
<text x="355.5" y="417.4" font-size="11.6" font-weight="bold" text-anchor="middle" fill="#000" transform="rotate(-90 355.5 417.4)">DMSO</text>
<text x="355.5" y="483.1" font-size="11.6" font-weight="bold" text-anchor="middle" fill="#000" transform="rotate(-90 355.5 483.1)">H</text>
<text x="355.5" y="569.6" font-size="11.6" font-weight="bold" text-anchor="middle" fill="#000" transform="rotate(-90 355.5 569.6)">N</text>
<text x="355.5" y="639.2" font-size="11.6" font-weight="bold" text-anchor="middle" fill="#000" transform="rotate(-90 355.5 639.2)">SEB</text>
<text x="358.1" y="526.2" font-size="8" font-weight="bold" text-anchor="middle" fill="#000" transform="rotate(-90 358.1 526.2)">% of Max</text>
<path d="M29.3 413.4V652.4" stroke="#000" stroke-width="3.1"/>
<path d="M25 420.9L29.3 413.4L33.6 420.9" fill="none" stroke="#000" stroke-width="2.5" stroke-linejoin="miter" stroke-miterlimit="10"/>
<path d="M35.9 659.1H294.5" stroke="#000" stroke-width="3.1"/>
<path d="M287 654.8L294.5 659.1L287 663.4" fill="none" stroke="#000" stroke-width="2.5" stroke-linejoin="miter" stroke-miterlimit="10"/>
<path d="M365.6 401.4V653.4" stroke="#000" stroke-width="3.1"/>
<path d="M361.3 408.9L365.6 401.4L369.9 408.9" fill="none" stroke="#000" stroke-width="2.5" stroke-linejoin="miter" stroke-miterlimit="10"/>
<path d="M375 658.9H650.8" stroke="#000" stroke-width="3.1"/>
<path d="M643.3 654.6L650.8 658.9L643.3 663.2" fill="none" stroke="#000" stroke-width="2.5" stroke-linejoin="miter" stroke-miterlimit="10"/>
<text x="180.4" y="673.8" font-size="12" font-weight="bold" text-anchor="middle" fill="#000">RORγt</text>
<text x="523.8" y="672.6" font-size="12" font-weight="bold" text-anchor="middle" fill="#000">RORγt</text>
</svg>
</body></html>
